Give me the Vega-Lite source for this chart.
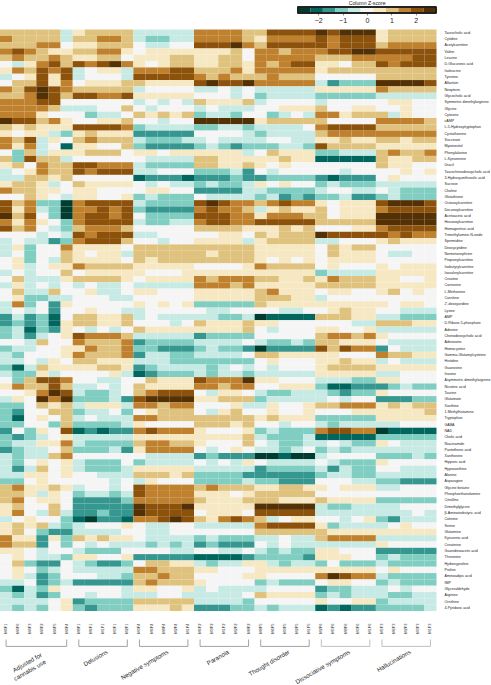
{"$schema":"https://vega.github.io/schema/vega-lite/v6.json","padding":0,"bounds":"flush","spacing":16.5,"background":"white","config":{"view":{"stroke":null},"font":"Liberation Sans"},
"datasets":{"legendBins":[{"bin":-5,"lo":-2.84,"hi":-2.324},{"bin":-4,"lo":-2.324,"hi":-1.808},{"bin":-3,"lo":-1.808,"hi":-1.292},{"bin":-2,"lo":-1.292,"hi":-0.776},{"bin":-1,"lo":-0.776,"hi":-0.26},{"bin":0,"lo":-0.26,"hi":0.256},{"bin":1,"lo":0.256,"hi":0.772},{"bin":2,"lo":0.772,"hi":1.288},{"bin":3,"lo":1.288,"hi":1.804},{"bin":4,"lo":1.804,"hi":2.32},{"bin":5,"lo":2.32,"hi":2.84}],
"groups":[{"group":"Adjusted for\ncannabis use","first":"M4F1","last":"M4F4","mid":"M4F2"},{"group":"Delusions","first":"M8F1","last":"M2F1","mid":"M1F1"},{"group":"Negative symptoms","first":"M3F4","last":"M1F4","mid":"M8F4"},{"group":"Paranoia","first":"M6F2","last":"M8F2","mid":"M1F2"},{"group":"Thought disorder","first":"M8F5","last":"M1F5","mid":"M3F5"},{"group":"Dissociative symptoms","first":"M2F6","last":"M1F6","mid":"M8F6"},{"group":"Hallucinations","first":"M5F3","last":"M1F3","mid":"M2F3"}],
"samples":[{"s":1,"sample":"M4F1"},{"s":2,"sample":"M4F6"},{"s":3,"sample":"M4F3"},{"s":4,"sample":"M4F2"},{"s":5,"sample":"M4F5"},{"s":6,"sample":"M4F4"},{"s":7,"sample":"M8F1"},{"s":8,"sample":"M6F1"},{"s":9,"sample":"M1F1"},{"s":10,"sample":"M3F1"},{"s":11,"sample":"M2F1"},{"s":12,"sample":"M3F4"},{"s":13,"sample":"M6F4"},{"s":14,"sample":"M8F4"},{"s":15,"sample":"M2F4"},{"s":16,"sample":"M1F4"},{"s":17,"sample":"M6F2"},{"s":18,"sample":"M3F2"},{"s":19,"sample":"M1F2"},{"s":20,"sample":"M2F2"},{"s":21,"sample":"M8F2"},{"s":22,"sample":"M8F5"},{"s":23,"sample":"M6F5"},{"s":24,"sample":"M3F5"},{"s":25,"sample":"M2F5"},{"s":26,"sample":"M1F5"},{"s":27,"sample":"M2F6"},{"s":28,"sample":"M5F6"},{"s":29,"sample":"M8F6"},{"s":30,"sample":"M3F6"},{"s":31,"sample":"M1F6"},{"s":32,"sample":"M5F3"},{"s":33,"sample":"M6F3"},{"s":34,"sample":"M2F3"},{"s":35,"sample":"M3F3"},{"s":36,"sample":"M1F3"}],
"metabolites":[{"m":1,"name":"Taurocholic acid"},{"m":2,"name":"Cytidine"},{"m":3,"name":"Acetylcarnitine"},{"m":4,"name":"Valine"},{"m":5,"name":"Leucine"},{"m":6,"name":"D-Glucuronic acid"},{"m":7,"name":"Isoleucine"},{"m":8,"name":"Tyrosine"},{"m":9,"name":"Allantoin"},{"m":10,"name":"Neopterin"},{"m":11,"name":"Glycocholic acid"},{"m":12,"name":"Symmetric dimethylarginine"},{"m":13,"name":"Glycine"},{"m":14,"name":"Cytosine"},{"m":15,"name":"cAMP"},{"m":16,"name":"L-5-Hydroxytryptophan"},{"m":17,"name":"Cystathionine"},{"m":18,"name":"Succinate"},{"m":19,"name":"Myoinositol"},{"m":20,"name":"Phenylalanine"},{"m":21,"name":"L-Kynurenine"},{"m":22,"name":"Uracil"},{"m":23,"name":"Taurochenodeoxycholic acid"},{"m":24,"name":"3-Hydroxyanthranilic acid"},{"m":25,"name":"Sucrose"},{"m":26,"name":"Choline"},{"m":27,"name":"Glutathione"},{"m":28,"name":"Octanoylcarnitine"},{"m":29,"name":"Decanoylcarnitine"},{"m":30,"name":"Acetoacetic acid"},{"m":31,"name":"Hexanoylcarnitine"},{"m":32,"name":"Homogentisic acid"},{"m":33,"name":"Trimethylamine-N-oxide"},{"m":34,"name":"Spermidine"},{"m":35,"name":"Deoxycytidine"},{"m":36,"name":"Normetanephrine"},{"m":37,"name":"Propionylcarnitine"},{"m":38,"name":"Isobutyrylcarnitine"},{"m":39,"name":"Isovalerylcarnitine"},{"m":40,"name":"Creatine"},{"m":41,"name":"Carnosine"},{"m":42,"name":"L-Methionine"},{"m":43,"name":"Carnitine"},{"m":44,"name":"2'-deoxyuridine"},{"m":45,"name":"Lysine"},{"m":46,"name":"AMP"},{"m":47,"name":"D-Ribose-5-phosphate"},{"m":48,"name":"Adenine"},{"m":49,"name":"Chenodeoxycholic acid"},{"m":50,"name":"Adenosine"},{"m":51,"name":"Homocystine"},{"m":52,"name":"Gamma-Glutamylcysteine"},{"m":53,"name":"Histidine"},{"m":54,"name":"Guanosine"},{"m":55,"name":"Inosine"},{"m":56,"name":"Asymmetric dimethylarginine"},{"m":57,"name":"Nicotinic acid"},{"m":58,"name":"Taurine"},{"m":59,"name":"Glutamate"},{"m":60,"name":"Xanthine"},{"m":61,"name":"1-Methylhistamine"},{"m":62,"name":"Tryptophan"},{"m":63,"name":"GABA"},{"m":64,"name":"NAD"},{"m":65,"name":"Cholic acid"},{"m":66,"name":"Niacinamide"},{"m":67,"name":"Pantothenic acid"},{"m":68,"name":"Xanthosine"},{"m":69,"name":"Hippuric acid"},{"m":70,"name":"Hypoxanthine"},{"m":71,"name":"Alanine"},{"m":72,"name":"Asparagine"},{"m":73,"name":"Glycine betaine"},{"m":74,"name":"Phosphoethanolamine"},{"m":75,"name":"Citrulline"},{"m":76,"name":"Dimethylglycine"},{"m":77,"name":"β-Aminoisobutyric acid"},{"m":78,"name":"Cotinine"},{"m":79,"name":"Serine"},{"m":80,"name":"Glutamine"},{"m":81,"name":"Kynurenic acid"},{"m":82,"name":"Creatinine"},{"m":83,"name":"Guanidinoacetic acid"},{"m":84,"name":"Threonine"},{"m":85,"name":"Hydroxyproline"},{"m":86,"name":"Proline"},{"m":87,"name":"Aminoadipic acid"},{"m":88,"name":"IMP"},{"m":89,"name":"Glyceraldehyde"},{"m":90,"name":"Arginine"},{"m":91,"name":"Ornithine"},{"m":92,"name":"4-Pyridoxic acid"}],
"cells":[
{"m":1,"s":1,"bin":2},{"m":1,"s":2,"bin":2},{"m":1,"s":3,"bin":2},{"m":1,"s":4,"bin":2},{"m":1,"s":5,"bin":2},{"m":1,"s":6,"bin":-1},{"m":1,"s":7,"bin":1},{"m":1,"s":8,"bin":2},{"m":1,"s":9,"bin":2},{"m":1,"s":10,"bin":2},{"m":1,"s":11,"bin":2},{"m":1,"s":12,"bin":-1},{"m":1,"s":13,"bin":-1},{"m":1,"s":14,"bin":-1},{"m":1,"s":15,"bin":-1},{"m":1,"s":16,"bin":-1},{"m":1,"s":17,"bin":3},{"m":1,"s":18,"bin":3},{"m":1,"s":19,"bin":3},{"m":1,"s":20,"bin":3},{"m":1,"s":21,"bin":2},{"m":1,"s":22,"bin":2},{"m":1,"s":23,"bin":4},{"m":1,"s":24,"bin":4},{"m":1,"s":25,"bin":4},{"m":1,"s":26,"bin":4},{"m":1,"s":27,"bin":5},{"m":1,"s":28,"bin":4},{"m":1,"s":29,"bin":5},{"m":1,"s":30,"bin":5},{"m":1,"s":31,"bin":5},{"m":1,"s":32,"bin":1},{"m":1,"s":33,"bin":2},{"m":1,"s":34,"bin":2},{"m":1,"s":35,"bin":2},{"m":1,"s":36,"bin":2},
{"m":2,"s":1,"bin":3},{"m":2,"s":2,"bin":2},{"m":2,"s":3,"bin":2},{"m":2,"s":4,"bin":2},{"m":2,"s":5,"bin":2},{"m":2,"s":6,"bin":-1},{"m":2,"s":7,"bin":2},{"m":2,"s":8,"bin":2},{"m":2,"s":9,"bin":3},{"m":2,"s":10,"bin":3},{"m":2,"s":11,"bin":2},{"m":2,"s":12,"bin":-1},{"m":2,"s":13,"bin":-2},{"m":2,"s":14,"bin":-2},{"m":2,"s":15,"bin":-1},{"m":2,"s":16,"bin":-1},{"m":2,"s":17,"bin":3},{"m":2,"s":18,"bin":3},{"m":2,"s":19,"bin":3},{"m":2,"s":20,"bin":3},{"m":2,"s":21,"bin":2},{"m":2,"s":22,"bin":1},{"m":2,"s":23,"bin":3},{"m":2,"s":24,"bin":3},{"m":2,"s":25,"bin":3},{"m":2,"s":26,"bin":3},{"m":2,"s":27,"bin":4},{"m":2,"s":28,"bin":3},{"m":2,"s":29,"bin":4},{"m":2,"s":30,"bin":4},{"m":2,"s":31,"bin":4},{"m":2,"s":32,"bin":1},{"m":2,"s":33,"bin":2},{"m":2,"s":34,"bin":2},{"m":2,"s":35,"bin":2},{"m":2,"s":36,"bin":2},
{"m":3,"s":1,"bin":2},{"m":3,"s":2,"bin":2},{"m":3,"s":3,"bin":2},{"m":3,"s":4,"bin":3},{"m":3,"s":5,"bin":3},{"m":3,"s":6,"bin":0},{"m":3,"s":7,"bin":1},{"m":3,"s":8,"bin":1},{"m":3,"s":9,"bin":2},{"m":3,"s":10,"bin":2},{"m":3,"s":11,"bin":2},{"m":3,"s":12,"bin":0},{"m":3,"s":13,"bin":-1},{"m":3,"s":14,"bin":-1},{"m":3,"s":15,"bin":0},{"m":3,"s":16,"bin":0},{"m":3,"s":17,"bin":4},{"m":3,"s":18,"bin":4},{"m":3,"s":19,"bin":4},{"m":3,"s":20,"bin":5},{"m":3,"s":21,"bin":3},{"m":3,"s":22,"bin":2},{"m":3,"s":23,"bin":4},{"m":3,"s":24,"bin":4},{"m":3,"s":25,"bin":4},{"m":3,"s":26,"bin":4},{"m":3,"s":27,"bin":4},{"m":3,"s":28,"bin":3},{"m":3,"s":29,"bin":4},{"m":3,"s":30,"bin":4},{"m":3,"s":31,"bin":4},{"m":3,"s":32,"bin":2},{"m":3,"s":33,"bin":3},{"m":3,"s":34,"bin":3},{"m":3,"s":35,"bin":3},{"m":3,"s":36,"bin":3},
{"m":4,"s":1,"bin":3},{"m":4,"s":2,"bin":4},{"m":4,"s":3,"bin":3},{"m":4,"s":4,"bin":2},{"m":4,"s":5,"bin":1},{"m":4,"s":6,"bin":1},{"m":4,"s":7,"bin":2},{"m":4,"s":8,"bin":2},{"m":4,"s":9,"bin":3},{"m":4,"s":10,"bin":3},{"m":4,"s":11,"bin":1},{"m":4,"s":12,"bin":0},{"m":4,"s":13,"bin":1},{"m":4,"s":14,"bin":1},{"m":4,"s":15,"bin":1},{"m":4,"s":16,"bin":1},{"m":4,"s":17,"bin":1},{"m":4,"s":18,"bin":1},{"m":4,"s":19,"bin":1},{"m":4,"s":20,"bin":2},{"m":4,"s":21,"bin":0},{"m":4,"s":22,"bin":3},{"m":4,"s":23,"bin":3},{"m":4,"s":24,"bin":2},{"m":4,"s":25,"bin":3},{"m":4,"s":26,"bin":3},{"m":4,"s":27,"bin":3},{"m":4,"s":28,"bin":4},{"m":4,"s":29,"bin":4},{"m":4,"s":30,"bin":5},{"m":4,"s":31,"bin":5},{"m":4,"s":32,"bin":4},{"m":4,"s":33,"bin":4},{"m":4,"s":34,"bin":4},{"m":4,"s":35,"bin":4},{"m":4,"s":36,"bin":4},
{"m":5,"s":1,"bin":2},{"m":5,"s":2,"bin":3},{"m":5,"s":3,"bin":2},{"m":5,"s":4,"bin":2},{"m":5,"s":5,"bin":3},{"m":5,"s":6,"bin":2},{"m":5,"s":7,"bin":1},{"m":5,"s":8,"bin":1},{"m":5,"s":9,"bin":2},{"m":5,"s":10,"bin":2},{"m":5,"s":11,"bin":0},{"m":5,"s":12,"bin":1},{"m":5,"s":13,"bin":1},{"m":5,"s":14,"bin":1},{"m":5,"s":15,"bin":2},{"m":5,"s":16,"bin":2},{"m":5,"s":17,"bin":1},{"m":5,"s":18,"bin":1},{"m":5,"s":19,"bin":2},{"m":5,"s":20,"bin":2},{"m":5,"s":21,"bin":0},{"m":5,"s":22,"bin":3},{"m":5,"s":23,"bin":3},{"m":5,"s":24,"bin":3},{"m":5,"s":25,"bin":3},{"m":5,"s":26,"bin":3},{"m":5,"s":27,"bin":2},{"m":5,"s":28,"bin":2},{"m":5,"s":29,"bin":2},{"m":5,"s":30,"bin":3},{"m":5,"s":31,"bin":3},{"m":5,"s":32,"bin":3},{"m":5,"s":33,"bin":3},{"m":5,"s":34,"bin":3},{"m":5,"s":35,"bin":4},{"m":5,"s":36,"bin":4},
{"m":6,"s":1,"bin":0},{"m":6,"s":2,"bin":-1},{"m":6,"s":3,"bin":1},{"m":6,"s":4,"bin":3},{"m":6,"s":5,"bin":4},{"m":6,"s":6,"bin":2},{"m":6,"s":7,"bin":4},{"m":6,"s":8,"bin":3},{"m":6,"s":9,"bin":4},{"m":6,"s":10,"bin":5},{"m":6,"s":11,"bin":3},{"m":6,"s":12,"bin":1},{"m":6,"s":13,"bin":0},{"m":6,"s":14,"bin":1},{"m":6,"s":15,"bin":2},{"m":6,"s":16,"bin":2},{"m":6,"s":17,"bin":1},{"m":6,"s":18,"bin":1},{"m":6,"s":19,"bin":2},{"m":6,"s":20,"bin":2},{"m":6,"s":21,"bin":1},{"m":6,"s":22,"bin":3},{"m":6,"s":23,"bin":2},{"m":6,"s":24,"bin":3},{"m":6,"s":25,"bin":4},{"m":6,"s":26,"bin":4},{"m":6,"s":27,"bin":1},{"m":6,"s":28,"bin":1},{"m":6,"s":29,"bin":0},{"m":6,"s":30,"bin":2},{"m":6,"s":31,"bin":2},{"m":6,"s":32,"bin":4},{"m":6,"s":33,"bin":3},{"m":6,"s":34,"bin":4},{"m":6,"s":35,"bin":4},{"m":6,"s":36,"bin":4},
{"m":7,"s":1,"bin":1},{"m":7,"s":2,"bin":3},{"m":7,"s":3,"bin":2},{"m":7,"s":4,"bin":4},{"m":7,"s":5,"bin":3},{"m":7,"s":6,"bin":4},{"m":7,"s":7,"bin":-1},{"m":7,"s":8,"bin":0},{"m":7,"s":9,"bin":1},{"m":7,"s":10,"bin":1},{"m":7,"s":11,"bin":-1},{"m":7,"s":12,"bin":3},{"m":7,"s":13,"bin":3},{"m":7,"s":14,"bin":3},{"m":7,"s":15,"bin":4},{"m":7,"s":16,"bin":4},{"m":7,"s":17,"bin":2},{"m":7,"s":18,"bin":2},{"m":7,"s":19,"bin":2},{"m":7,"s":20,"bin":3},{"m":7,"s":21,"bin":1},{"m":7,"s":22,"bin":3},{"m":7,"s":23,"bin":3},{"m":7,"s":24,"bin":3},{"m":7,"s":25,"bin":3},{"m":7,"s":26,"bin":3},{"m":7,"s":27,"bin":1},{"m":7,"s":28,"bin":2},{"m":7,"s":29,"bin":2},{"m":7,"s":30,"bin":2},{"m":7,"s":31,"bin":2},{"m":7,"s":32,"bin":2},{"m":7,"s":33,"bin":2},{"m":7,"s":34,"bin":2},{"m":7,"s":35,"bin":2},{"m":7,"s":36,"bin":2},
{"m":8,"s":1,"bin":-1},{"m":8,"s":2,"bin":0},{"m":8,"s":3,"bin":1},{"m":8,"s":4,"bin":4},{"m":8,"s":5,"bin":1},{"m":8,"s":6,"bin":4},{"m":8,"s":7,"bin":-1},{"m":8,"s":8,"bin":0},{"m":8,"s":9,"bin":0},{"m":8,"s":10,"bin":0},{"m":8,"s":11,"bin":-1},{"m":8,"s":12,"bin":4},{"m":8,"s":13,"bin":4},{"m":8,"s":14,"bin":4},{"m":8,"s":15,"bin":4},{"m":8,"s":16,"bin":4},{"m":8,"s":17,"bin":3},{"m":8,"s":18,"bin":2},{"m":8,"s":19,"bin":3},{"m":8,"s":20,"bin":2},{"m":8,"s":21,"bin":2},{"m":8,"s":22,"bin":2},{"m":8,"s":23,"bin":3},{"m":8,"s":24,"bin":2},{"m":8,"s":25,"bin":2},{"m":8,"s":26,"bin":2},{"m":8,"s":27,"bin":0},{"m":8,"s":28,"bin":0},{"m":8,"s":29,"bin":0},{"m":8,"s":30,"bin":0},{"m":8,"s":31,"bin":0},{"m":8,"s":32,"bin":2},{"m":8,"s":33,"bin":2},{"m":8,"s":34,"bin":2},{"m":8,"s":35,"bin":2},{"m":8,"s":36,"bin":2},
{"m":9,"s":1,"bin":0},{"m":9,"s":2,"bin":2},{"m":9,"s":3,"bin":2},{"m":9,"s":4,"bin":4},{"m":9,"s":5,"bin":1},{"m":9,"s":6,"bin":3},{"m":9,"s":7,"bin":0},{"m":9,"s":8,"bin":1},{"m":9,"s":9,"bin":1},{"m":9,"s":10,"bin":1},{"m":9,"s":11,"bin":2},{"m":9,"s":12,"bin":2},{"m":9,"s":13,"bin":1},{"m":9,"s":14,"bin":1},{"m":9,"s":15,"bin":1},{"m":9,"s":16,"bin":1},{"m":9,"s":17,"bin":4},{"m":9,"s":18,"bin":5},{"m":9,"s":19,"bin":4},{"m":9,"s":20,"bin":4},{"m":9,"s":21,"bin":5},{"m":9,"s":22,"bin":3},{"m":9,"s":23,"bin":3},{"m":9,"s":24,"bin":3},{"m":9,"s":25,"bin":3},{"m":9,"s":26,"bin":3},{"m":9,"s":27,"bin":-1},{"m":9,"s":28,"bin":-3},{"m":9,"s":29,"bin":-2},{"m":9,"s":30,"bin":-2},{"m":9,"s":31,"bin":-2},{"m":9,"s":32,"bin":5},{"m":9,"s":33,"bin":5},{"m":9,"s":34,"bin":5},{"m":9,"s":35,"bin":5},{"m":9,"s":36,"bin":4},
{"m":10,"s":1,"bin":3},{"m":10,"s":2,"bin":2},{"m":10,"s":3,"bin":4},{"m":10,"s":4,"bin":5},{"m":10,"s":5,"bin":4},{"m":10,"s":6,"bin":3},{"m":10,"s":7,"bin":2},{"m":10,"s":8,"bin":2},{"m":10,"s":9,"bin":2},{"m":10,"s":10,"bin":2},{"m":10,"s":11,"bin":2},{"m":10,"s":12,"bin":-1},{"m":10,"s":13,"bin":0},{"m":10,"s":14,"bin":0},{"m":10,"s":15,"bin":0},{"m":10,"s":16,"bin":0},{"m":10,"s":17,"bin":-1},{"m":10,"s":18,"bin":-1},{"m":10,"s":19,"bin":0},{"m":10,"s":20,"bin":-1},{"m":10,"s":21,"bin":0},{"m":10,"s":22,"bin":-1},{"m":10,"s":23,"bin":-1},{"m":10,"s":24,"bin":-1},{"m":10,"s":25,"bin":-1},{"m":10,"s":26,"bin":-1},{"m":10,"s":27,"bin":1},{"m":10,"s":28,"bin":1},{"m":10,"s":29,"bin":1},{"m":10,"s":30,"bin":1},{"m":10,"s":31,"bin":1},{"m":10,"s":32,"bin":3},{"m":10,"s":33,"bin":2},{"m":10,"s":34,"bin":2},{"m":10,"s":35,"bin":2},{"m":10,"s":36,"bin":2},
{"m":11,"s":1,"bin":2},{"m":11,"s":2,"bin":2},{"m":11,"s":3,"bin":3},{"m":11,"s":4,"bin":5},{"m":11,"s":5,"bin":4},{"m":11,"s":6,"bin":2},{"m":11,"s":7,"bin":4},{"m":11,"s":8,"bin":4},{"m":11,"s":9,"bin":3},{"m":11,"s":10,"bin":3},{"m":11,"s":11,"bin":4},{"m":11,"s":12,"bin":1},{"m":11,"s":13,"bin":1},{"m":11,"s":14,"bin":1},{"m":11,"s":15,"bin":1},{"m":11,"s":16,"bin":1},{"m":11,"s":17,"bin":0},{"m":11,"s":18,"bin":0},{"m":11,"s":19,"bin":0},{"m":11,"s":20,"bin":-1},{"m":11,"s":21,"bin":0},{"m":11,"s":22,"bin":-2},{"m":11,"s":23,"bin":-1},{"m":11,"s":24,"bin":-1},{"m":11,"s":25,"bin":-1},{"m":11,"s":26,"bin":-1},{"m":11,"s":27,"bin":-2},{"m":11,"s":28,"bin":-2},{"m":11,"s":29,"bin":-2},{"m":11,"s":30,"bin":-2},{"m":11,"s":31,"bin":-2},{"m":11,"s":32,"bin":-1},{"m":11,"s":33,"bin":-1},{"m":11,"s":34,"bin":-1},{"m":11,"s":35,"bin":-1},{"m":11,"s":36,"bin":-1},
{"m":12,"s":1,"bin":3},{"m":12,"s":2,"bin":3},{"m":12,"s":3,"bin":3},{"m":12,"s":4,"bin":4},{"m":12,"s":5,"bin":4},{"m":12,"s":6,"bin":0},{"m":12,"s":7,"bin":0},{"m":12,"s":8,"bin":0},{"m":12,"s":9,"bin":0},{"m":12,"s":10,"bin":0},{"m":12,"s":11,"bin":0},{"m":12,"s":12,"bin":-1},{"m":12,"s":13,"bin":0},{"m":12,"s":14,"bin":-1},{"m":12,"s":15,"bin":0},{"m":12,"s":16,"bin":-1},{"m":12,"s":17,"bin":2},{"m":12,"s":18,"bin":1},{"m":12,"s":19,"bin":1},{"m":12,"s":20,"bin":1},{"m":12,"s":21,"bin":2},{"m":12,"s":22,"bin":-1},{"m":12,"s":23,"bin":0},{"m":12,"s":24,"bin":0},{"m":12,"s":25,"bin":0},{"m":12,"s":26,"bin":0},{"m":12,"s":27,"bin":-1},{"m":12,"s":28,"bin":0},{"m":12,"s":29,"bin":0},{"m":12,"s":30,"bin":0},{"m":12,"s":31,"bin":0},{"m":12,"s":32,"bin":0},{"m":12,"s":33,"bin":1},{"m":12,"s":34,"bin":1},{"m":12,"s":35,"bin":0},{"m":12,"s":36,"bin":0},
{"m":13,"s":1,"bin":3},{"m":13,"s":2,"bin":3},{"m":13,"s":3,"bin":3},{"m":13,"s":4,"bin":3},{"m":13,"s":5,"bin":2},{"m":13,"s":6,"bin":-1},{"m":13,"s":7,"bin":-1},{"m":13,"s":8,"bin":-1},{"m":13,"s":9,"bin":0},{"m":13,"s":10,"bin":0},{"m":13,"s":11,"bin":2},{"m":13,"s":12,"bin":0},{"m":13,"s":13,"bin":-1},{"m":13,"s":14,"bin":0},{"m":13,"s":15,"bin":0},{"m":13,"s":16,"bin":0},{"m":13,"s":17,"bin":-1},{"m":13,"s":18,"bin":0},{"m":13,"s":19,"bin":-1},{"m":13,"s":20,"bin":-1},{"m":13,"s":21,"bin":-1},{"m":13,"s":22,"bin":0},{"m":13,"s":23,"bin":0},{"m":13,"s":24,"bin":1},{"m":13,"s":25,"bin":1},{"m":13,"s":26,"bin":1},{"m":13,"s":27,"bin":2},{"m":13,"s":28,"bin":0},{"m":13,"s":29,"bin":0},{"m":13,"s":30,"bin":1},{"m":13,"s":31,"bin":1},{"m":13,"s":32,"bin":0},{"m":13,"s":33,"bin":0},{"m":13,"s":34,"bin":1},{"m":13,"s":35,"bin":0},{"m":13,"s":36,"bin":0},
{"m":14,"s":1,"bin":3},{"m":14,"s":2,"bin":3},{"m":14,"s":3,"bin":3},{"m":14,"s":4,"bin":1},{"m":14,"s":5,"bin":0},{"m":14,"s":6,"bin":0},{"m":14,"s":7,"bin":0},{"m":14,"s":8,"bin":-2},{"m":14,"s":9,"bin":-1},{"m":14,"s":10,"bin":-1},{"m":14,"s":11,"bin":0},{"m":14,"s":12,"bin":2},{"m":14,"s":13,"bin":1},{"m":14,"s":14,"bin":2},{"m":14,"s":15,"bin":1},{"m":14,"s":16,"bin":2},{"m":14,"s":17,"bin":-2},{"m":14,"s":18,"bin":-1},{"m":14,"s":19,"bin":-1},{"m":14,"s":20,"bin":-2},{"m":14,"s":21,"bin":0},{"m":14,"s":22,"bin":0},{"m":14,"s":23,"bin":-2},{"m":14,"s":24,"bin":-1},{"m":14,"s":25,"bin":0},{"m":14,"s":26,"bin":-1},{"m":14,"s":27,"bin":3},{"m":14,"s":28,"bin":3},{"m":14,"s":29,"bin":1},{"m":14,"s":30,"bin":2},{"m":14,"s":31,"bin":2},{"m":14,"s":32,"bin":2},{"m":14,"s":33,"bin":-1},{"m":14,"s":34,"bin":1},{"m":14,"s":35,"bin":0},{"m":14,"s":36,"bin":0},
{"m":15,"s":1,"bin":5},{"m":15,"s":2,"bin":4},{"m":15,"s":3,"bin":4},{"m":15,"s":4,"bin":2},{"m":15,"s":5,"bin":3},{"m":15,"s":6,"bin":1},{"m":15,"s":7,"bin":0},{"m":15,"s":8,"bin":0},{"m":15,"s":9,"bin":1},{"m":15,"s":10,"bin":1},{"m":15,"s":11,"bin":2},{"m":15,"s":12,"bin":0},{"m":15,"s":13,"bin":0},{"m":15,"s":14,"bin":-1},{"m":15,"s":15,"bin":0},{"m":15,"s":16,"bin":0},{"m":15,"s":17,"bin":5},{"m":15,"s":18,"bin":5},{"m":15,"s":19,"bin":5},{"m":15,"s":20,"bin":5},{"m":15,"s":21,"bin":5},{"m":15,"s":22,"bin":1},{"m":15,"s":23,"bin":2},{"m":15,"s":24,"bin":2},{"m":15,"s":25,"bin":2},{"m":15,"s":26,"bin":2},{"m":15,"s":27,"bin":2},{"m":15,"s":28,"bin":0},{"m":15,"s":29,"bin":0},{"m":15,"s":30,"bin":0},{"m":15,"s":31,"bin":0},{"m":15,"s":32,"bin":3},{"m":15,"s":33,"bin":3},{"m":15,"s":34,"bin":3},{"m":15,"s":35,"bin":3},{"m":15,"s":36,"bin":2},
{"m":16,"s":1,"bin":2},{"m":16,"s":2,"bin":1},{"m":16,"s":3,"bin":2},{"m":16,"s":4,"bin":1},{"m":16,"s":5,"bin":1},{"m":16,"s":6,"bin":1},{"m":16,"s":7,"bin":4},{"m":16,"s":8,"bin":4},{"m":16,"s":9,"bin":4},{"m":16,"s":10,"bin":4},{"m":16,"s":11,"bin":3},{"m":16,"s":12,"bin":-2},{"m":16,"s":13,"bin":-1},{"m":16,"s":14,"bin":-1},{"m":16,"s":15,"bin":-1},{"m":16,"s":16,"bin":-1},{"m":16,"s":17,"bin":-2},{"m":16,"s":18,"bin":-2},{"m":16,"s":19,"bin":-1},{"m":16,"s":20,"bin":-1},{"m":16,"s":21,"bin":-2},{"m":16,"s":22,"bin":-1},{"m":16,"s":23,"bin":-1},{"m":16,"s":24,"bin":-1},{"m":16,"s":25,"bin":-1},{"m":16,"s":26,"bin":0},{"m":16,"s":27,"bin":3},{"m":16,"s":28,"bin":4},{"m":16,"s":29,"bin":4},{"m":16,"s":30,"bin":4},{"m":16,"s":31,"bin":4},{"m":16,"s":32,"bin":2},{"m":16,"s":33,"bin":2},{"m":16,"s":34,"bin":2},{"m":16,"s":35,"bin":2},{"m":16,"s":36,"bin":2},
{"m":17,"s":1,"bin":1},{"m":17,"s":2,"bin":0},{"m":17,"s":3,"bin":1},{"m":17,"s":4,"bin":1},{"m":17,"s":5,"bin":-1},{"m":17,"s":6,"bin":-2},{"m":17,"s":7,"bin":1},{"m":17,"s":8,"bin":2},{"m":17,"s":9,"bin":1},{"m":17,"s":10,"bin":1},{"m":17,"s":11,"bin":1},{"m":17,"s":12,"bin":-3},{"m":17,"s":13,"bin":-3},{"m":17,"s":14,"bin":-3},{"m":17,"s":15,"bin":-3},{"m":17,"s":16,"bin":-3},{"m":17,"s":17,"bin":0},{"m":17,"s":18,"bin":0},{"m":17,"s":19,"bin":0},{"m":17,"s":20,"bin":0},{"m":17,"s":21,"bin":-1},{"m":17,"s":22,"bin":-2},{"m":17,"s":23,"bin":-1},{"m":17,"s":24,"bin":-1},{"m":17,"s":25,"bin":-1},{"m":17,"s":26,"bin":-1},{"m":17,"s":27,"bin":2},{"m":17,"s":28,"bin":3},{"m":17,"s":29,"bin":3},{"m":17,"s":30,"bin":3},{"m":17,"s":31,"bin":3},{"m":17,"s":32,"bin":3},{"m":17,"s":33,"bin":3},{"m":17,"s":34,"bin":3},{"m":17,"s":35,"bin":3},{"m":17,"s":36,"bin":3},
{"m":18,"s":1,"bin":3},{"m":18,"s":2,"bin":2},{"m":18,"s":3,"bin":4},{"m":18,"s":4,"bin":-1},{"m":18,"s":5,"bin":1},{"m":18,"s":6,"bin":0},{"m":18,"s":7,"bin":2},{"m":18,"s":8,"bin":3},{"m":18,"s":9,"bin":2},{"m":18,"s":10,"bin":2},{"m":18,"s":11,"bin":2},{"m":18,"s":12,"bin":-1},{"m":18,"s":13,"bin":-2},{"m":18,"s":14,"bin":-2},{"m":18,"s":15,"bin":-2},{"m":18,"s":16,"bin":-1},{"m":18,"s":17,"bin":-1},{"m":18,"s":18,"bin":0},{"m":18,"s":19,"bin":-1},{"m":18,"s":20,"bin":-1},{"m":18,"s":21,"bin":-1},{"m":18,"s":22,"bin":-1},{"m":18,"s":23,"bin":0},{"m":18,"s":24,"bin":0},{"m":18,"s":25,"bin":-1},{"m":18,"s":26,"bin":-1},{"m":18,"s":27,"bin":1},{"m":18,"s":28,"bin":1},{"m":18,"s":29,"bin":2},{"m":18,"s":30,"bin":1},{"m":18,"s":31,"bin":1},{"m":18,"s":32,"bin":2},{"m":18,"s":33,"bin":2},{"m":18,"s":34,"bin":1},{"m":18,"s":35,"bin":2},{"m":18,"s":36,"bin":2},
{"m":19,"s":1,"bin":3},{"m":19,"s":2,"bin":1},{"m":19,"s":3,"bin":3},{"m":19,"s":4,"bin":-1},{"m":19,"s":5,"bin":0},{"m":19,"s":6,"bin":-4},{"m":19,"s":7,"bin":1},{"m":19,"s":8,"bin":1},{"m":19,"s":9,"bin":0},{"m":19,"s":10,"bin":0},{"m":19,"s":11,"bin":2},{"m":19,"s":12,"bin":-2},{"m":19,"s":13,"bin":-3},{"m":19,"s":14,"bin":-3},{"m":19,"s":15,"bin":-3},{"m":19,"s":16,"bin":-3},{"m":19,"s":17,"bin":-2},{"m":19,"s":18,"bin":-1},{"m":19,"s":19,"bin":-2},{"m":19,"s":20,"bin":-3},{"m":19,"s":21,"bin":-2},{"m":19,"s":22,"bin":-2},{"m":19,"s":23,"bin":-2},{"m":19,"s":24,"bin":-1},{"m":19,"s":25,"bin":-1},{"m":19,"s":26,"bin":-2},{"m":19,"s":27,"bin":4},{"m":19,"s":28,"bin":2},{"m":19,"s":29,"bin":2},{"m":19,"s":30,"bin":2},{"m":19,"s":31,"bin":2},{"m":19,"s":32,"bin":1},{"m":19,"s":33,"bin":1},{"m":19,"s":34,"bin":1},{"m":19,"s":35,"bin":1},{"m":19,"s":36,"bin":1},
{"m":20,"s":1,"bin":0},{"m":20,"s":2,"bin":-2},{"m":20,"s":3,"bin":2},{"m":20,"s":4,"bin":-1},{"m":20,"s":5,"bin":1},{"m":20,"s":6,"bin":1},{"m":20,"s":7,"bin":1},{"m":20,"s":8,"bin":2},{"m":20,"s":9,"bin":2},{"m":20,"s":10,"bin":2},{"m":20,"s":11,"bin":0},{"m":20,"s":12,"bin":1},{"m":20,"s":13,"bin":1},{"m":20,"s":14,"bin":0},{"m":20,"s":15,"bin":1},{"m":20,"s":16,"bin":1},{"m":20,"s":17,"bin":1},{"m":20,"s":18,"bin":1},{"m":20,"s":19,"bin":1},{"m":20,"s":20,"bin":1},{"m":20,"s":21,"bin":-1},{"m":20,"s":22,"bin":0},{"m":20,"s":23,"bin":2},{"m":20,"s":24,"bin":1},{"m":20,"s":25,"bin":1},{"m":20,"s":26,"bin":1},{"m":20,"s":27,"bin":-2},{"m":20,"s":28,"bin":-2},{"m":20,"s":29,"bin":-1},{"m":20,"s":30,"bin":-1},{"m":20,"s":31,"bin":-1},{"m":20,"s":32,"bin":2},{"m":20,"s":33,"bin":3},{"m":20,"s":34,"bin":2},{"m":20,"s":35,"bin":2},{"m":20,"s":36,"bin":3},
{"m":21,"s":1,"bin":2},{"m":21,"s":2,"bin":-2},{"m":21,"s":3,"bin":4},{"m":21,"s":4,"bin":2},{"m":21,"s":5,"bin":2},{"m":21,"s":6,"bin":-1},{"m":21,"s":7,"bin":0},{"m":21,"s":8,"bin":0},{"m":21,"s":9,"bin":0},{"m":21,"s":10,"bin":0},{"m":21,"s":11,"bin":0},{"m":21,"s":12,"bin":0},{"m":21,"s":13,"bin":-1},{"m":21,"s":14,"bin":-1},{"m":21,"s":15,"bin":-1},{"m":21,"s":16,"bin":-1},{"m":21,"s":17,"bin":2},{"m":21,"s":18,"bin":2},{"m":21,"s":19,"bin":1},{"m":21,"s":20,"bin":1},{"m":21,"s":21,"bin":1},{"m":21,"s":22,"bin":1},{"m":21,"s":23,"bin":1},{"m":21,"s":24,"bin":2},{"m":21,"s":25,"bin":1},{"m":21,"s":26,"bin":1},{"m":21,"s":27,"bin":-4},{"m":21,"s":28,"bin":-4},{"m":21,"s":29,"bin":-4},{"m":21,"s":30,"bin":-4},{"m":21,"s":31,"bin":-4},{"m":21,"s":32,"bin":2},{"m":21,"s":33,"bin":1},{"m":21,"s":34,"bin":1},{"m":21,"s":35,"bin":2},{"m":21,"s":36,"bin":2},
{"m":22,"s":1,"bin":1},{"m":22,"s":2,"bin":2},{"m":22,"s":3,"bin":0},{"m":22,"s":4,"bin":3},{"m":22,"s":5,"bin":2},{"m":22,"s":6,"bin":2},{"m":22,"s":7,"bin":4},{"m":22,"s":8,"bin":4},{"m":22,"s":9,"bin":3},{"m":22,"s":10,"bin":3},{"m":22,"s":11,"bin":3},{"m":22,"s":12,"bin":-1},{"m":22,"s":13,"bin":-2},{"m":22,"s":14,"bin":-2},{"m":22,"s":15,"bin":-2},{"m":22,"s":16,"bin":-2},{"m":22,"s":17,"bin":2},{"m":22,"s":18,"bin":2},{"m":22,"s":19,"bin":1},{"m":22,"s":20,"bin":1},{"m":22,"s":21,"bin":2},{"m":22,"s":22,"bin":1},{"m":22,"s":23,"bin":0},{"m":22,"s":24,"bin":1},{"m":22,"s":25,"bin":0},{"m":22,"s":26,"bin":0},{"m":22,"s":27,"bin":0},{"m":22,"s":28,"bin":0},{"m":22,"s":29,"bin":0},{"m":22,"s":30,"bin":0},{"m":22,"s":31,"bin":0},{"m":22,"s":32,"bin":2},{"m":22,"s":33,"bin":1},{"m":22,"s":34,"bin":1},{"m":22,"s":35,"bin":0},{"m":22,"s":36,"bin":0},
{"m":23,"s":1,"bin":-1},{"m":23,"s":2,"bin":0},{"m":23,"s":3,"bin":1},{"m":23,"s":4,"bin":3},{"m":23,"s":5,"bin":2},{"m":23,"s":6,"bin":2},{"m":23,"s":7,"bin":4},{"m":23,"s":8,"bin":3},{"m":23,"s":9,"bin":4},{"m":23,"s":10,"bin":4},{"m":23,"s":11,"bin":4},{"m":23,"s":12,"bin":-1},{"m":23,"s":13,"bin":-1},{"m":23,"s":14,"bin":0},{"m":23,"s":15,"bin":0},{"m":23,"s":16,"bin":0},{"m":23,"s":17,"bin":-2},{"m":23,"s":18,"bin":-2},{"m":23,"s":19,"bin":-2},{"m":23,"s":20,"bin":-1},{"m":23,"s":21,"bin":-3},{"m":23,"s":22,"bin":0},{"m":23,"s":23,"bin":-1},{"m":23,"s":24,"bin":0},{"m":23,"s":25,"bin":0},{"m":23,"s":26,"bin":0},{"m":23,"s":27,"bin":0},{"m":23,"s":28,"bin":0},{"m":23,"s":29,"bin":-1},{"m":23,"s":30,"bin":0},{"m":23,"s":31,"bin":0},{"m":23,"s":32,"bin":0},{"m":23,"s":33,"bin":0},{"m":23,"s":34,"bin":1},{"m":23,"s":35,"bin":0},{"m":23,"s":36,"bin":1},
{"m":24,"s":1,"bin":-1},{"m":24,"s":2,"bin":-1},{"m":24,"s":3,"bin":2},{"m":24,"s":4,"bin":2},{"m":24,"s":5,"bin":1},{"m":24,"s":6,"bin":2},{"m":24,"s":7,"bin":0},{"m":24,"s":8,"bin":0},{"m":24,"s":9,"bin":0},{"m":24,"s":10,"bin":0},{"m":24,"s":11,"bin":0},{"m":24,"s":12,"bin":-4},{"m":24,"s":13,"bin":-3},{"m":24,"s":14,"bin":-3},{"m":24,"s":15,"bin":-3},{"m":24,"s":16,"bin":-4},{"m":24,"s":17,"bin":-3},{"m":24,"s":18,"bin":-3},{"m":24,"s":19,"bin":-3},{"m":24,"s":20,"bin":-2},{"m":24,"s":21,"bin":-3},{"m":24,"s":22,"bin":-3},{"m":24,"s":23,"bin":-2},{"m":24,"s":24,"bin":-2},{"m":24,"s":25,"bin":-2},{"m":24,"s":26,"bin":-2},{"m":24,"s":27,"bin":-3},{"m":24,"s":28,"bin":-4},{"m":24,"s":29,"bin":-3},{"m":24,"s":30,"bin":-3},{"m":24,"s":31,"bin":-3},{"m":24,"s":32,"bin":0},{"m":24,"s":33,"bin":1},{"m":24,"s":34,"bin":0},{"m":24,"s":35,"bin":0},{"m":24,"s":36,"bin":0},
{"m":25,"s":1,"bin":1},{"m":25,"s":2,"bin":2},{"m":25,"s":3,"bin":2},{"m":25,"s":4,"bin":1},{"m":25,"s":5,"bin":-1},{"m":25,"s":6,"bin":0},{"m":25,"s":7,"bin":2},{"m":25,"s":8,"bin":1},{"m":25,"s":9,"bin":1},{"m":25,"s":10,"bin":1},{"m":25,"s":11,"bin":1},{"m":25,"s":12,"bin":0},{"m":25,"s":13,"bin":-1},{"m":25,"s":14,"bin":0},{"m":25,"s":15,"bin":-1},{"m":25,"s":16,"bin":-1},{"m":25,"s":17,"bin":-2},{"m":25,"s":18,"bin":-1},{"m":25,"s":19,"bin":-2},{"m":25,"s":20,"bin":-2},{"m":25,"s":21,"bin":-1},{"m":25,"s":22,"bin":1},{"m":25,"s":23,"bin":0},{"m":25,"s":24,"bin":1},{"m":25,"s":25,"bin":0},{"m":25,"s":26,"bin":0},{"m":25,"s":27,"bin":-2},{"m":25,"s":28,"bin":-1},{"m":25,"s":29,"bin":-2},{"m":25,"s":30,"bin":-2},{"m":25,"s":31,"bin":-2},{"m":25,"s":32,"bin":-1},{"m":25,"s":33,"bin":-1},{"m":25,"s":34,"bin":-1},{"m":25,"s":35,"bin":-1},{"m":25,"s":36,"bin":-1},
{"m":26,"s":1,"bin":3},{"m":26,"s":2,"bin":2},{"m":26,"s":3,"bin":2},{"m":26,"s":4,"bin":1},{"m":26,"s":5,"bin":1},{"m":26,"s":6,"bin":0},{"m":26,"s":7,"bin":1},{"m":26,"s":8,"bin":1},{"m":26,"s":9,"bin":0},{"m":26,"s":10,"bin":0},{"m":26,"s":11,"bin":0},{"m":26,"s":12,"bin":0},{"m":26,"s":13,"bin":1},{"m":26,"s":14,"bin":1},{"m":26,"s":15,"bin":0},{"m":26,"s":16,"bin":0},{"m":26,"s":17,"bin":-3},{"m":26,"s":18,"bin":-3},{"m":26,"s":19,"bin":-3},{"m":26,"s":20,"bin":-3},{"m":26,"s":21,"bin":-1},{"m":26,"s":22,"bin":-1},{"m":26,"s":23,"bin":-2},{"m":26,"s":24,"bin":-2},{"m":26,"s":25,"bin":-2},{"m":26,"s":26,"bin":-2},{"m":26,"s":27,"bin":-1},{"m":26,"s":28,"bin":0},{"m":26,"s":29,"bin":0},{"m":26,"s":30,"bin":-1},{"m":26,"s":31,"bin":-1},{"m":26,"s":32,"bin":0},{"m":26,"s":33,"bin":-1},{"m":26,"s":34,"bin":-2},{"m":26,"s":35,"bin":-2},{"m":26,"s":36,"bin":-2},
{"m":27,"s":1,"bin":0},{"m":27,"s":2,"bin":0},{"m":27,"s":3,"bin":2},{"m":27,"s":4,"bin":1},{"m":27,"s":5,"bin":0},{"m":27,"s":6,"bin":-1},{"m":27,"s":7,"bin":1},{"m":27,"s":8,"bin":1},{"m":27,"s":9,"bin":0},{"m":27,"s":10,"bin":0},{"m":27,"s":11,"bin":1},{"m":27,"s":12,"bin":-2},{"m":27,"s":13,"bin":-1},{"m":27,"s":14,"bin":-2},{"m":27,"s":15,"bin":-2},{"m":27,"s":16,"bin":-2},{"m":27,"s":17,"bin":0},{"m":27,"s":18,"bin":-1},{"m":27,"s":19,"bin":-1},{"m":27,"s":20,"bin":-1},{"m":27,"s":21,"bin":-1},{"m":27,"s":22,"bin":-2},{"m":27,"s":23,"bin":-1},{"m":27,"s":24,"bin":-3},{"m":27,"s":25,"bin":-2},{"m":27,"s":26,"bin":-3},{"m":27,"s":27,"bin":-2},{"m":27,"s":28,"bin":-2},{"m":27,"s":29,"bin":-1},{"m":27,"s":30,"bin":-3},{"m":27,"s":31,"bin":-3},{"m":27,"s":32,"bin":-2},{"m":27,"s":33,"bin":-1},{"m":27,"s":34,"bin":-2},{"m":27,"s":35,"bin":-2},{"m":27,"s":36,"bin":-2},
{"m":28,"s":1,"bin":4},{"m":28,"s":2,"bin":2},{"m":28,"s":3,"bin":3},{"m":28,"s":4,"bin":-2},{"m":28,"s":5,"bin":-2},{"m":28,"s":6,"bin":-5},{"m":28,"s":7,"bin":3},{"m":28,"s":8,"bin":4},{"m":28,"s":9,"bin":4},{"m":28,"s":10,"bin":4},{"m":28,"s":11,"bin":4},{"m":28,"s":12,"bin":-1},{"m":28,"s":13,"bin":-2},{"m":28,"s":14,"bin":-2},{"m":28,"s":15,"bin":-2},{"m":28,"s":16,"bin":-2},{"m":28,"s":17,"bin":4},{"m":28,"s":18,"bin":5},{"m":28,"s":19,"bin":4},{"m":28,"s":20,"bin":3},{"m":28,"s":21,"bin":3},{"m":28,"s":22,"bin":2},{"m":28,"s":23,"bin":3},{"m":28,"s":24,"bin":4},{"m":28,"s":25,"bin":3},{"m":28,"s":26,"bin":3},{"m":28,"s":27,"bin":1},{"m":28,"s":28,"bin":0},{"m":28,"s":29,"bin":1},{"m":28,"s":30,"bin":1},{"m":28,"s":31,"bin":1},{"m":28,"s":32,"bin":4},{"m":28,"s":33,"bin":5},{"m":28,"s":34,"bin":5},{"m":28,"s":35,"bin":5},{"m":28,"s":36,"bin":4},
{"m":29,"s":1,"bin":4},{"m":29,"s":2,"bin":1},{"m":29,"s":3,"bin":3},{"m":29,"s":4,"bin":-1},{"m":29,"s":5,"bin":-2},{"m":29,"s":6,"bin":-5},{"m":29,"s":7,"bin":3},{"m":29,"s":8,"bin":3},{"m":29,"s":9,"bin":4},{"m":29,"s":10,"bin":3},{"m":29,"s":11,"bin":4},{"m":29,"s":12,"bin":-2},{"m":29,"s":13,"bin":-3},{"m":29,"s":14,"bin":-3},{"m":29,"s":15,"bin":-3},{"m":29,"s":16,"bin":-3},{"m":29,"s":17,"bin":3},{"m":29,"s":18,"bin":4},{"m":29,"s":19,"bin":3},{"m":29,"s":20,"bin":3},{"m":29,"s":21,"bin":2},{"m":29,"s":22,"bin":-1},{"m":29,"s":23,"bin":1},{"m":29,"s":24,"bin":2},{"m":29,"s":25,"bin":1},{"m":29,"s":26,"bin":1},{"m":29,"s":27,"bin":2},{"m":29,"s":28,"bin":0},{"m":29,"s":29,"bin":1},{"m":29,"s":30,"bin":1},{"m":29,"s":31,"bin":1},{"m":29,"s":32,"bin":3},{"m":29,"s":33,"bin":4},{"m":29,"s":34,"bin":4},{"m":29,"s":35,"bin":4},{"m":29,"s":36,"bin":4},
{"m":30,"s":1,"bin":5},{"m":30,"s":2,"bin":2},{"m":30,"s":3,"bin":4},{"m":30,"s":4,"bin":0},{"m":30,"s":5,"bin":-2},{"m":30,"s":6,"bin":-5},{"m":30,"s":7,"bin":3},{"m":30,"s":8,"bin":4},{"m":30,"s":9,"bin":4},{"m":30,"s":10,"bin":3},{"m":30,"s":11,"bin":4},{"m":30,"s":12,"bin":0},{"m":30,"s":13,"bin":-2},{"m":30,"s":14,"bin":-2},{"m":30,"s":15,"bin":-2},{"m":30,"s":16,"bin":-2},{"m":30,"s":17,"bin":4},{"m":30,"s":18,"bin":4},{"m":30,"s":19,"bin":4},{"m":30,"s":20,"bin":3},{"m":30,"s":21,"bin":3},{"m":30,"s":22,"bin":1},{"m":30,"s":23,"bin":3},{"m":30,"s":24,"bin":3},{"m":30,"s":25,"bin":3},{"m":30,"s":26,"bin":2},{"m":30,"s":27,"bin":2},{"m":30,"s":28,"bin":0},{"m":30,"s":29,"bin":1},{"m":30,"s":30,"bin":1},{"m":30,"s":31,"bin":1},{"m":30,"s":32,"bin":5},{"m":30,"s":33,"bin":5},{"m":30,"s":34,"bin":5},{"m":30,"s":35,"bin":5},{"m":30,"s":36,"bin":5},
{"m":31,"s":1,"bin":3},{"m":31,"s":2,"bin":1},{"m":31,"s":3,"bin":3},{"m":31,"s":4,"bin":1},{"m":31,"s":5,"bin":0},{"m":31,"s":6,"bin":-2},{"m":31,"s":7,"bin":3},{"m":31,"s":8,"bin":4},{"m":31,"s":9,"bin":4},{"m":31,"s":10,"bin":4},{"m":31,"s":11,"bin":4},{"m":31,"s":12,"bin":-1},{"m":31,"s":13,"bin":-2},{"m":31,"s":14,"bin":-2},{"m":31,"s":15,"bin":-1},{"m":31,"s":16,"bin":-1},{"m":31,"s":17,"bin":3},{"m":31,"s":18,"bin":4},{"m":31,"s":19,"bin":4},{"m":31,"s":20,"bin":3},{"m":31,"s":21,"bin":3},{"m":31,"s":22,"bin":4},{"m":31,"s":23,"bin":4},{"m":31,"s":24,"bin":4},{"m":31,"s":25,"bin":4},{"m":31,"s":26,"bin":4},{"m":31,"s":27,"bin":2},{"m":31,"s":28,"bin":2},{"m":31,"s":29,"bin":2},{"m":31,"s":30,"bin":2},{"m":31,"s":31,"bin":2},{"m":31,"s":32,"bin":5},{"m":31,"s":33,"bin":5},{"m":31,"s":34,"bin":5},{"m":31,"s":35,"bin":5},{"m":31,"s":36,"bin":5},
{"m":32,"s":1,"bin":4},{"m":32,"s":2,"bin":2},{"m":32,"s":3,"bin":3},{"m":32,"s":4,"bin":0},{"m":32,"s":5,"bin":-1},{"m":32,"s":6,"bin":-2},{"m":32,"s":7,"bin":2},{"m":32,"s":8,"bin":3},{"m":32,"s":9,"bin":3},{"m":32,"s":10,"bin":3},{"m":32,"s":11,"bin":2},{"m":32,"s":12,"bin":0},{"m":32,"s":13,"bin":0},{"m":32,"s":14,"bin":0},{"m":32,"s":15,"bin":0},{"m":32,"s":16,"bin":0},{"m":32,"s":17,"bin":2},{"m":32,"s":18,"bin":2},{"m":32,"s":19,"bin":2},{"m":32,"s":20,"bin":2},{"m":32,"s":21,"bin":1},{"m":32,"s":22,"bin":1},{"m":32,"s":23,"bin":1},{"m":32,"s":24,"bin":2},{"m":32,"s":25,"bin":1},{"m":32,"s":26,"bin":2},{"m":32,"s":27,"bin":0},{"m":32,"s":28,"bin":0},{"m":32,"s":29,"bin":0},{"m":32,"s":30,"bin":1},{"m":32,"s":31,"bin":1},{"m":32,"s":32,"bin":3},{"m":32,"s":33,"bin":4},{"m":32,"s":34,"bin":4},{"m":32,"s":35,"bin":4},{"m":32,"s":36,"bin":4},
{"m":33,"s":1,"bin":0},{"m":33,"s":2,"bin":0},{"m":33,"s":3,"bin":0},{"m":33,"s":4,"bin":-1},{"m":33,"s":5,"bin":0},{"m":33,"s":6,"bin":-1},{"m":33,"s":7,"bin":4},{"m":33,"s":8,"bin":3},{"m":33,"s":9,"bin":4},{"m":33,"s":10,"bin":4},{"m":33,"s":11,"bin":4},{"m":33,"s":12,"bin":-1},{"m":33,"s":13,"bin":-1},{"m":33,"s":14,"bin":0},{"m":33,"s":15,"bin":0},{"m":33,"s":16,"bin":0},{"m":33,"s":17,"bin":0},{"m":33,"s":18,"bin":0},{"m":33,"s":19,"bin":1},{"m":33,"s":20,"bin":1},{"m":33,"s":21,"bin":0},{"m":33,"s":22,"bin":2},{"m":33,"s":23,"bin":1},{"m":33,"s":24,"bin":2},{"m":33,"s":25,"bin":2},{"m":33,"s":26,"bin":2},{"m":33,"s":27,"bin":5},{"m":33,"s":28,"bin":4},{"m":33,"s":29,"bin":4},{"m":33,"s":30,"bin":4},{"m":33,"s":31,"bin":4},{"m":33,"s":32,"bin":4},{"m":33,"s":33,"bin":3},{"m":33,"s":34,"bin":4},{"m":33,"s":35,"bin":3},{"m":33,"s":36,"bin":3},
{"m":34,"s":1,"bin":-1},{"m":34,"s":2,"bin":0},{"m":34,"s":3,"bin":-1},{"m":34,"s":4,"bin":-1},{"m":34,"s":5,"bin":-3},{"m":34,"s":6,"bin":-2},{"m":34,"s":7,"bin":3},{"m":34,"s":8,"bin":4},{"m":34,"s":9,"bin":4},{"m":34,"s":10,"bin":4},{"m":34,"s":11,"bin":2},{"m":34,"s":12,"bin":0},{"m":34,"s":13,"bin":0},{"m":34,"s":14,"bin":-1},{"m":34,"s":15,"bin":0},{"m":34,"s":16,"bin":0},{"m":34,"s":17,"bin":1},{"m":34,"s":18,"bin":1},{"m":34,"s":19,"bin":1},{"m":34,"s":20,"bin":1},{"m":34,"s":21,"bin":-1},{"m":34,"s":22,"bin":1},{"m":34,"s":23,"bin":2},{"m":34,"s":24,"bin":2},{"m":34,"s":25,"bin":2},{"m":34,"s":26,"bin":2},{"m":34,"s":27,"bin":-1},{"m":34,"s":28,"bin":-1},{"m":34,"s":29,"bin":0},{"m":34,"s":30,"bin":0},{"m":34,"s":31,"bin":0},{"m":34,"s":32,"bin":1},{"m":34,"s":33,"bin":2},{"m":34,"s":34,"bin":1},{"m":34,"s":35,"bin":1},{"m":34,"s":36,"bin":1},
{"m":35,"s":1,"bin":-1},{"m":35,"s":2,"bin":1},{"m":35,"s":3,"bin":-2},{"m":35,"s":4,"bin":0},{"m":35,"s":5,"bin":0},{"m":35,"s":6,"bin":3},{"m":35,"s":7,"bin":1},{"m":35,"s":8,"bin":1},{"m":35,"s":9,"bin":1},{"m":35,"s":10,"bin":1},{"m":35,"s":11,"bin":0},{"m":35,"s":12,"bin":2},{"m":35,"s":13,"bin":2},{"m":35,"s":14,"bin":2},{"m":35,"s":15,"bin":2},{"m":35,"s":16,"bin":2},{"m":35,"s":17,"bin":2},{"m":35,"s":18,"bin":2},{"m":35,"s":19,"bin":2},{"m":35,"s":20,"bin":2},{"m":35,"s":21,"bin":2},{"m":35,"s":22,"bin":1},{"m":35,"s":23,"bin":1},{"m":35,"s":24,"bin":1},{"m":35,"s":25,"bin":1},{"m":35,"s":26,"bin":1},{"m":35,"s":27,"bin":0},{"m":35,"s":28,"bin":2},{"m":35,"s":29,"bin":1},{"m":35,"s":30,"bin":2},{"m":35,"s":31,"bin":2},{"m":35,"s":32,"bin":0},{"m":35,"s":33,"bin":0},{"m":35,"s":34,"bin":0},{"m":35,"s":35,"bin":0},{"m":35,"s":36,"bin":0},
{"m":36,"s":1,"bin":-1},{"m":36,"s":2,"bin":0},{"m":36,"s":3,"bin":-2},{"m":36,"s":4,"bin":0},{"m":36,"s":5,"bin":0},{"m":36,"s":6,"bin":2},{"m":36,"s":7,"bin":1},{"m":36,"s":8,"bin":0},{"m":36,"s":9,"bin":1},{"m":36,"s":10,"bin":1},{"m":36,"s":11,"bin":-1},{"m":36,"s":12,"bin":2},{"m":36,"s":13,"bin":2},{"m":36,"s":14,"bin":2},{"m":36,"s":15,"bin":2},{"m":36,"s":16,"bin":2},{"m":36,"s":17,"bin":2},{"m":36,"s":18,"bin":1},{"m":36,"s":19,"bin":2},{"m":36,"s":20,"bin":2},{"m":36,"s":21,"bin":2},{"m":36,"s":22,"bin":1},{"m":36,"s":23,"bin":1},{"m":36,"s":24,"bin":1},{"m":36,"s":25,"bin":1},{"m":36,"s":26,"bin":1},{"m":36,"s":27,"bin":0},{"m":36,"s":28,"bin":2},{"m":36,"s":29,"bin":1},{"m":36,"s":30,"bin":1},{"m":36,"s":31,"bin":1},{"m":36,"s":32,"bin":0},{"m":36,"s":33,"bin":-1},{"m":36,"s":34,"bin":-1},{"m":36,"s":35,"bin":0},{"m":36,"s":36,"bin":0},
{"m":37,"s":1,"bin":0},{"m":37,"s":2,"bin":1},{"m":37,"s":3,"bin":-2},{"m":37,"s":4,"bin":0},{"m":37,"s":5,"bin":-1},{"m":37,"s":6,"bin":2},{"m":37,"s":7,"bin":1},{"m":37,"s":8,"bin":1},{"m":37,"s":9,"bin":1},{"m":37,"s":10,"bin":1},{"m":37,"s":11,"bin":0},{"m":37,"s":12,"bin":2},{"m":37,"s":13,"bin":1},{"m":37,"s":14,"bin":2},{"m":37,"s":15,"bin":2},{"m":37,"s":16,"bin":2},{"m":37,"s":17,"bin":2},{"m":37,"s":18,"bin":2},{"m":37,"s":19,"bin":2},{"m":37,"s":20,"bin":2},{"m":37,"s":21,"bin":2},{"m":37,"s":22,"bin":1},{"m":37,"s":23,"bin":0},{"m":37,"s":24,"bin":1},{"m":37,"s":25,"bin":0},{"m":37,"s":26,"bin":1},{"m":37,"s":27,"bin":0},{"m":37,"s":28,"bin":1},{"m":37,"s":29,"bin":1},{"m":37,"s":30,"bin":1},{"m":37,"s":31,"bin":1},{"m":37,"s":32,"bin":0},{"m":37,"s":33,"bin":0},{"m":37,"s":34,"bin":0},{"m":37,"s":35,"bin":0},{"m":37,"s":36,"bin":0},
{"m":38,"s":1,"bin":0},{"m":38,"s":2,"bin":1},{"m":38,"s":3,"bin":-1},{"m":38,"s":4,"bin":0},{"m":38,"s":5,"bin":1},{"m":38,"s":6,"bin":1},{"m":38,"s":7,"bin":3},{"m":38,"s":8,"bin":2},{"m":38,"s":9,"bin":2},{"m":38,"s":10,"bin":2},{"m":38,"s":11,"bin":2},{"m":38,"s":12,"bin":1},{"m":38,"s":13,"bin":1},{"m":38,"s":14,"bin":1},{"m":38,"s":15,"bin":1},{"m":38,"s":16,"bin":1},{"m":38,"s":17,"bin":0},{"m":38,"s":18,"bin":0},{"m":38,"s":19,"bin":0},{"m":38,"s":20,"bin":0},{"m":38,"s":21,"bin":1},{"m":38,"s":22,"bin":3},{"m":38,"s":23,"bin":2},{"m":38,"s":24,"bin":2},{"m":38,"s":25,"bin":2},{"m":38,"s":26,"bin":2},{"m":38,"s":27,"bin":0},{"m":38,"s":28,"bin":1},{"m":38,"s":29,"bin":0},{"m":38,"s":30,"bin":0},{"m":38,"s":31,"bin":0},{"m":38,"s":32,"bin":1},{"m":38,"s":33,"bin":0},{"m":38,"s":34,"bin":1},{"m":38,"s":35,"bin":1},{"m":38,"s":36,"bin":1},
{"m":39,"s":1,"bin":-1},{"m":39,"s":2,"bin":0},{"m":39,"s":3,"bin":-1},{"m":39,"s":4,"bin":0},{"m":39,"s":5,"bin":0},{"m":39,"s":6,"bin":2},{"m":39,"s":7,"bin":0},{"m":39,"s":8,"bin":1},{"m":39,"s":9,"bin":1},{"m":39,"s":10,"bin":1},{"m":39,"s":11,"bin":1},{"m":39,"s":12,"bin":1},{"m":39,"s":13,"bin":0},{"m":39,"s":14,"bin":0},{"m":39,"s":15,"bin":0},{"m":39,"s":16,"bin":1},{"m":39,"s":17,"bin":1},{"m":39,"s":18,"bin":1},{"m":39,"s":19,"bin":1},{"m":39,"s":20,"bin":1},{"m":39,"s":21,"bin":1},{"m":39,"s":22,"bin":1},{"m":39,"s":23,"bin":1},{"m":39,"s":24,"bin":1},{"m":39,"s":25,"bin":1},{"m":39,"s":26,"bin":1},{"m":39,"s":27,"bin":-2},{"m":39,"s":28,"bin":-1},{"m":39,"s":29,"bin":-1},{"m":39,"s":30,"bin":-1},{"m":39,"s":31,"bin":-1},{"m":39,"s":32,"bin":1},{"m":39,"s":33,"bin":1},{"m":39,"s":34,"bin":1},{"m":39,"s":35,"bin":1},{"m":39,"s":36,"bin":1},
{"m":40,"s":1,"bin":0},{"m":40,"s":2,"bin":2},{"m":40,"s":3,"bin":-1},{"m":40,"s":4,"bin":-1},{"m":40,"s":5,"bin":-1},{"m":40,"s":6,"bin":1},{"m":40,"s":7,"bin":2},{"m":40,"s":8,"bin":2},{"m":40,"s":9,"bin":2},{"m":40,"s":10,"bin":2},{"m":40,"s":11,"bin":1},{"m":40,"s":12,"bin":0},{"m":40,"s":13,"bin":1},{"m":40,"s":14,"bin":1},{"m":40,"s":15,"bin":1},{"m":40,"s":16,"bin":1},{"m":40,"s":17,"bin":3},{"m":40,"s":18,"bin":2},{"m":40,"s":19,"bin":3},{"m":40,"s":20,"bin":3},{"m":40,"s":21,"bin":3},{"m":40,"s":22,"bin":2},{"m":40,"s":23,"bin":2},{"m":40,"s":24,"bin":1},{"m":40,"s":25,"bin":1},{"m":40,"s":26,"bin":2},{"m":40,"s":27,"bin":1},{"m":40,"s":28,"bin":3},{"m":40,"s":29,"bin":2},{"m":40,"s":30,"bin":2},{"m":40,"s":31,"bin":2},{"m":40,"s":32,"bin":1},{"m":40,"s":33,"bin":1},{"m":40,"s":34,"bin":0},{"m":40,"s":35,"bin":0},{"m":40,"s":36,"bin":1},
{"m":41,"s":1,"bin":-1},{"m":41,"s":2,"bin":1},{"m":41,"s":3,"bin":-1},{"m":41,"s":4,"bin":0},{"m":41,"s":5,"bin":-1},{"m":41,"s":6,"bin":0},{"m":41,"s":7,"bin":-1},{"m":41,"s":8,"bin":0},{"m":41,"s":9,"bin":-1},{"m":41,"s":10,"bin":-1},{"m":41,"s":11,"bin":0},{"m":41,"s":12,"bin":-1},{"m":41,"s":13,"bin":-1},{"m":41,"s":14,"bin":-1},{"m":41,"s":15,"bin":-1},{"m":41,"s":16,"bin":-1},{"m":41,"s":17,"bin":3},{"m":41,"s":18,"bin":3},{"m":41,"s":19,"bin":3},{"m":41,"s":20,"bin":2},{"m":41,"s":21,"bin":3},{"m":41,"s":22,"bin":1},{"m":41,"s":23,"bin":1},{"m":41,"s":24,"bin":1},{"m":41,"s":25,"bin":1},{"m":41,"s":26,"bin":1},{"m":41,"s":27,"bin":2},{"m":41,"s":28,"bin":2},{"m":41,"s":29,"bin":2},{"m":41,"s":30,"bin":2},{"m":41,"s":31,"bin":2},{"m":41,"s":32,"bin":1},{"m":41,"s":33,"bin":1},{"m":41,"s":34,"bin":1},{"m":41,"s":35,"bin":1},{"m":41,"s":36,"bin":1},
{"m":42,"s":1,"bin":0},{"m":42,"s":2,"bin":2},{"m":42,"s":3,"bin":-1},{"m":42,"s":4,"bin":-1},{"m":42,"s":5,"bin":2},{"m":42,"s":6,"bin":0},{"m":42,"s":7,"bin":0},{"m":42,"s":8,"bin":1},{"m":42,"s":9,"bin":-1},{"m":42,"s":10,"bin":-1},{"m":42,"s":11,"bin":0},{"m":42,"s":12,"bin":1},{"m":42,"s":13,"bin":1},{"m":42,"s":14,"bin":0},{"m":42,"s":15,"bin":0},{"m":42,"s":16,"bin":0},{"m":42,"s":17,"bin":1},{"m":42,"s":18,"bin":1},{"m":42,"s":19,"bin":1},{"m":42,"s":20,"bin":1},{"m":42,"s":21,"bin":1},{"m":42,"s":22,"bin":2},{"m":42,"s":23,"bin":3},{"m":42,"s":24,"bin":1},{"m":42,"s":25,"bin":1},{"m":42,"s":26,"bin":1},{"m":42,"s":27,"bin":0},{"m":42,"s":28,"bin":1},{"m":42,"s":29,"bin":1},{"m":42,"s":30,"bin":0},{"m":42,"s":31,"bin":0},{"m":42,"s":32,"bin":1},{"m":42,"s":33,"bin":2},{"m":42,"s":34,"bin":0},{"m":42,"s":35,"bin":1},{"m":42,"s":36,"bin":0},
{"m":43,"s":1,"bin":0},{"m":43,"s":2,"bin":1},{"m":43,"s":3,"bin":-2},{"m":43,"s":4,"bin":-2},{"m":43,"s":5,"bin":-1},{"m":43,"s":6,"bin":-1},{"m":43,"s":7,"bin":0},{"m":43,"s":8,"bin":0},{"m":43,"s":9,"bin":0},{"m":43,"s":10,"bin":-1},{"m":43,"s":11,"bin":-1},{"m":43,"s":12,"bin":0},{"m":43,"s":13,"bin":0},{"m":43,"s":14,"bin":0},{"m":43,"s":15,"bin":0},{"m":43,"s":16,"bin":0},{"m":43,"s":17,"bin":1},{"m":43,"s":18,"bin":1},{"m":43,"s":19,"bin":1},{"m":43,"s":20,"bin":1},{"m":43,"s":21,"bin":1},{"m":43,"s":22,"bin":2},{"m":43,"s":23,"bin":2},{"m":43,"s":24,"bin":2},{"m":43,"s":25,"bin":1},{"m":43,"s":26,"bin":1},{"m":43,"s":27,"bin":-1},{"m":43,"s":28,"bin":0},{"m":43,"s":29,"bin":0},{"m":43,"s":30,"bin":0},{"m":43,"s":31,"bin":0},{"m":43,"s":32,"bin":0},{"m":43,"s":33,"bin":0},{"m":43,"s":34,"bin":0},{"m":43,"s":35,"bin":0},{"m":43,"s":36,"bin":0},
{"m":44,"s":1,"bin":-1},{"m":44,"s":2,"bin":3},{"m":44,"s":3,"bin":-2},{"m":44,"s":4,"bin":0},{"m":44,"s":5,"bin":-3},{"m":44,"s":6,"bin":1},{"m":44,"s":7,"bin":0},{"m":44,"s":8,"bin":0},{"m":44,"s":9,"bin":0},{"m":44,"s":10,"bin":0},{"m":44,"s":11,"bin":0},{"m":44,"s":12,"bin":1},{"m":44,"s":13,"bin":0},{"m":44,"s":14,"bin":1},{"m":44,"s":15,"bin":0},{"m":44,"s":16,"bin":1},{"m":44,"s":17,"bin":-2},{"m":44,"s":18,"bin":-2},{"m":44,"s":19,"bin":-2},{"m":44,"s":20,"bin":-2},{"m":44,"s":21,"bin":-2},{"m":44,"s":22,"bin":2},{"m":44,"s":23,"bin":1},{"m":44,"s":24,"bin":1},{"m":44,"s":25,"bin":1},{"m":44,"s":26,"bin":1},{"m":44,"s":27,"bin":1},{"m":44,"s":28,"bin":1},{"m":44,"s":29,"bin":1},{"m":44,"s":30,"bin":1},{"m":44,"s":31,"bin":1},{"m":44,"s":32,"bin":1},{"m":44,"s":33,"bin":0},{"m":44,"s":34,"bin":1},{"m":44,"s":35,"bin":1},{"m":44,"s":36,"bin":0},
{"m":45,"s":1,"bin":-1},{"m":45,"s":2,"bin":0},{"m":45,"s":3,"bin":-1},{"m":45,"s":4,"bin":0},{"m":45,"s":5,"bin":-3},{"m":45,"s":6,"bin":0},{"m":45,"s":7,"bin":0},{"m":45,"s":8,"bin":1},{"m":45,"s":9,"bin":0},{"m":45,"s":10,"bin":0},{"m":45,"s":11,"bin":-1},{"m":45,"s":12,"bin":-1},{"m":45,"s":13,"bin":0},{"m":45,"s":14,"bin":0},{"m":45,"s":15,"bin":0},{"m":45,"s":16,"bin":0},{"m":45,"s":17,"bin":0},{"m":45,"s":18,"bin":-1},{"m":45,"s":19,"bin":-1},{"m":45,"s":20,"bin":0},{"m":45,"s":21,"bin":0},{"m":45,"s":22,"bin":0},{"m":45,"s":23,"bin":0},{"m":45,"s":24,"bin":-1},{"m":45,"s":25,"bin":-1},{"m":45,"s":26,"bin":0},{"m":45,"s":27,"bin":0},{"m":45,"s":28,"bin":1},{"m":45,"s":29,"bin":2},{"m":45,"s":30,"bin":1},{"m":45,"s":31,"bin":1},{"m":45,"s":32,"bin":0},{"m":45,"s":33,"bin":0},{"m":45,"s":34,"bin":-1},{"m":45,"s":35,"bin":-1},{"m":45,"s":36,"bin":-1},
{"m":46,"s":1,"bin":-3},{"m":46,"s":2,"bin":-1},{"m":46,"s":3,"bin":-3},{"m":46,"s":4,"bin":-2},{"m":46,"s":5,"bin":-4},{"m":46,"s":6,"bin":0},{"m":46,"s":7,"bin":2},{"m":46,"s":8,"bin":2},{"m":46,"s":9,"bin":1},{"m":46,"s":10,"bin":1},{"m":46,"s":11,"bin":2},{"m":46,"s":12,"bin":-1},{"m":46,"s":13,"bin":0},{"m":46,"s":14,"bin":-1},{"m":46,"s":15,"bin":-1},{"m":46,"s":16,"bin":-1},{"m":46,"s":17,"bin":-1},{"m":46,"s":18,"bin":-1},{"m":46,"s":19,"bin":-2},{"m":46,"s":20,"bin":-2},{"m":46,"s":21,"bin":-1},{"m":46,"s":22,"bin":-5},{"m":46,"s":23,"bin":-4},{"m":46,"s":24,"bin":-4},{"m":46,"s":25,"bin":-4},{"m":46,"s":26,"bin":-4},{"m":46,"s":27,"bin":2},{"m":46,"s":28,"bin":2},{"m":46,"s":29,"bin":2},{"m":46,"s":30,"bin":1},{"m":46,"s":31,"bin":1},{"m":46,"s":32,"bin":-1},{"m":46,"s":33,"bin":-1},{"m":46,"s":34,"bin":-2},{"m":46,"s":35,"bin":-2},{"m":46,"s":36,"bin":-2},
{"m":47,"s":1,"bin":-3},{"m":47,"s":2,"bin":-2},{"m":47,"s":3,"bin":-3},{"m":47,"s":4,"bin":-2},{"m":47,"s":5,"bin":-4},{"m":47,"s":6,"bin":1},{"m":47,"s":7,"bin":2},{"m":47,"s":8,"bin":2},{"m":47,"s":9,"bin":1},{"m":47,"s":10,"bin":1},{"m":47,"s":11,"bin":2},{"m":47,"s":12,"bin":0},{"m":47,"s":13,"bin":0},{"m":47,"s":14,"bin":0},{"m":47,"s":15,"bin":-1},{"m":47,"s":16,"bin":0},{"m":47,"s":17,"bin":2},{"m":47,"s":18,"bin":1},{"m":47,"s":19,"bin":1},{"m":47,"s":20,"bin":1},{"m":47,"s":21,"bin":2},{"m":47,"s":22,"bin":1},{"m":47,"s":23,"bin":1},{"m":47,"s":24,"bin":0},{"m":47,"s":25,"bin":0},{"m":47,"s":26,"bin":0},{"m":47,"s":27,"bin":0},{"m":47,"s":28,"bin":0},{"m":47,"s":29,"bin":0},{"m":47,"s":30,"bin":-1},{"m":47,"s":31,"bin":-1},{"m":47,"s":32,"bin":2},{"m":47,"s":33,"bin":2},{"m":47,"s":34,"bin":2},{"m":47,"s":35,"bin":1},{"m":47,"s":36,"bin":1},
{"m":48,"s":1,"bin":-2},{"m":48,"s":2,"bin":-1},{"m":48,"s":3,"bin":-4},{"m":48,"s":4,"bin":-2},{"m":48,"s":5,"bin":-3},{"m":48,"s":6,"bin":1},{"m":48,"s":7,"bin":0},{"m":48,"s":8,"bin":-1},{"m":48,"s":9,"bin":0},{"m":48,"s":10,"bin":-1},{"m":48,"s":11,"bin":0},{"m":48,"s":12,"bin":2},{"m":48,"s":13,"bin":1},{"m":48,"s":14,"bin":1},{"m":48,"s":15,"bin":1},{"m":48,"s":16,"bin":1},{"m":48,"s":17,"bin":1},{"m":48,"s":18,"bin":1},{"m":48,"s":19,"bin":1},{"m":48,"s":20,"bin":1},{"m":48,"s":21,"bin":2},{"m":48,"s":22,"bin":0},{"m":48,"s":23,"bin":-1},{"m":48,"s":24,"bin":0},{"m":48,"s":25,"bin":0},{"m":48,"s":26,"bin":0},{"m":48,"s":27,"bin":1},{"m":48,"s":28,"bin":1},{"m":48,"s":29,"bin":0},{"m":48,"s":30,"bin":0},{"m":48,"s":31,"bin":1},{"m":48,"s":32,"bin":-1},{"m":48,"s":33,"bin":-1},{"m":48,"s":34,"bin":-1},{"m":48,"s":35,"bin":-1},{"m":48,"s":36,"bin":-1},
{"m":49,"s":1,"bin":-2},{"m":49,"s":2,"bin":-1},{"m":49,"s":3,"bin":-3},{"m":49,"s":4,"bin":-1},{"m":49,"s":5,"bin":0},{"m":49,"s":6,"bin":1},{"m":49,"s":7,"bin":4},{"m":49,"s":8,"bin":3},{"m":49,"s":9,"bin":3},{"m":49,"s":10,"bin":3},{"m":49,"s":11,"bin":2},{"m":49,"s":12,"bin":-1},{"m":49,"s":13,"bin":-1},{"m":49,"s":14,"bin":-1},{"m":49,"s":15,"bin":-1},{"m":49,"s":16,"bin":-1},{"m":49,"s":17,"bin":-3},{"m":49,"s":18,"bin":-2},{"m":49,"s":19,"bin":-2},{"m":49,"s":20,"bin":-2},{"m":49,"s":21,"bin":-2},{"m":49,"s":22,"bin":0},{"m":49,"s":23,"bin":0},{"m":49,"s":24,"bin":0},{"m":49,"s":25,"bin":0},{"m":49,"s":26,"bin":0},{"m":49,"s":27,"bin":2},{"m":49,"s":28,"bin":3},{"m":49,"s":29,"bin":3},{"m":49,"s":30,"bin":2},{"m":49,"s":31,"bin":3},{"m":49,"s":32,"bin":1},{"m":49,"s":33,"bin":0},{"m":49,"s":34,"bin":0},{"m":49,"s":35,"bin":0},{"m":49,"s":36,"bin":0},
{"m":50,"s":1,"bin":0},{"m":50,"s":2,"bin":0},{"m":50,"s":3,"bin":-1},{"m":50,"s":4,"bin":2},{"m":50,"s":5,"bin":0},{"m":50,"s":6,"bin":0},{"m":50,"s":7,"bin":3},{"m":50,"s":8,"bin":2},{"m":50,"s":9,"bin":2},{"m":50,"s":10,"bin":2},{"m":50,"s":11,"bin":3},{"m":50,"s":12,"bin":-3},{"m":50,"s":13,"bin":-2},{"m":50,"s":14,"bin":-2},{"m":50,"s":15,"bin":-2},{"m":50,"s":16,"bin":-2},{"m":50,"s":17,"bin":-1},{"m":50,"s":18,"bin":-1},{"m":50,"s":19,"bin":-1},{"m":50,"s":20,"bin":-1},{"m":50,"s":21,"bin":0},{"m":50,"s":22,"bin":-1},{"m":50,"s":23,"bin":-2},{"m":50,"s":24,"bin":-2},{"m":50,"s":25,"bin":-1},{"m":50,"s":26,"bin":-2},{"m":50,"s":27,"bin":2},{"m":50,"s":28,"bin":2},{"m":50,"s":29,"bin":1},{"m":50,"s":30,"bin":1},{"m":50,"s":31,"bin":1},{"m":50,"s":32,"bin":0},{"m":50,"s":33,"bin":-1},{"m":50,"s":34,"bin":-1},{"m":50,"s":35,"bin":-1},{"m":50,"s":36,"bin":-1},
{"m":51,"s":1,"bin":-2},{"m":51,"s":2,"bin":-1},{"m":51,"s":3,"bin":-1},{"m":51,"s":4,"bin":0},{"m":51,"s":5,"bin":0},{"m":51,"s":6,"bin":1},{"m":51,"s":7,"bin":1},{"m":51,"s":8,"bin":3},{"m":51,"s":9,"bin":2},{"m":51,"s":10,"bin":2},{"m":51,"s":11,"bin":3},{"m":51,"s":12,"bin":-2},{"m":51,"s":13,"bin":-2},{"m":51,"s":14,"bin":-3},{"m":51,"s":15,"bin":-3},{"m":51,"s":16,"bin":-3},{"m":51,"s":17,"bin":-2},{"m":51,"s":18,"bin":-1},{"m":51,"s":19,"bin":-2},{"m":51,"s":20,"bin":-2},{"m":51,"s":21,"bin":-3},{"m":51,"s":22,"bin":-5},{"m":51,"s":23,"bin":-3},{"m":51,"s":24,"bin":-3},{"m":51,"s":25,"bin":-3},{"m":51,"s":26,"bin":-3},{"m":51,"s":27,"bin":4},{"m":51,"s":28,"bin":2},{"m":51,"s":29,"bin":4},{"m":51,"s":30,"bin":3},{"m":51,"s":31,"bin":3},{"m":51,"s":32,"bin":-3},{"m":51,"s":33,"bin":0},{"m":51,"s":34,"bin":-1},{"m":51,"s":35,"bin":-1},{"m":51,"s":36,"bin":-1},
{"m":52,"s":1,"bin":-1},{"m":52,"s":2,"bin":-2},{"m":52,"s":3,"bin":0},{"m":52,"s":4,"bin":0},{"m":52,"s":5,"bin":0},{"m":52,"s":6,"bin":1},{"m":52,"s":7,"bin":3},{"m":52,"s":8,"bin":2},{"m":52,"s":9,"bin":2},{"m":52,"s":10,"bin":2},{"m":52,"s":11,"bin":3},{"m":52,"s":12,"bin":-3},{"m":52,"s":13,"bin":-1},{"m":52,"s":14,"bin":-1},{"m":52,"s":15,"bin":-2},{"m":52,"s":16,"bin":-2},{"m":52,"s":17,"bin":-1},{"m":52,"s":18,"bin":-1},{"m":52,"s":19,"bin":-1},{"m":52,"s":20,"bin":-1},{"m":52,"s":21,"bin":0},{"m":52,"s":22,"bin":2},{"m":52,"s":23,"bin":2},{"m":52,"s":24,"bin":1},{"m":52,"s":25,"bin":1},{"m":52,"s":26,"bin":1},{"m":52,"s":27,"bin":1},{"m":52,"s":28,"bin":1},{"m":52,"s":29,"bin":0},{"m":52,"s":30,"bin":0},{"m":52,"s":31,"bin":0},{"m":52,"s":32,"bin":3},{"m":52,"s":33,"bin":2},{"m":52,"s":34,"bin":2},{"m":52,"s":35,"bin":1},{"m":52,"s":36,"bin":1},
{"m":53,"s":1,"bin":-1},{"m":53,"s":2,"bin":-1},{"m":53,"s":3,"bin":0},{"m":53,"s":4,"bin":-1},{"m":53,"s":5,"bin":1},{"m":53,"s":6,"bin":0},{"m":53,"s":7,"bin":2},{"m":53,"s":8,"bin":2},{"m":53,"s":9,"bin":1},{"m":53,"s":10,"bin":1},{"m":53,"s":11,"bin":1},{"m":53,"s":12,"bin":-1},{"m":53,"s":13,"bin":-1},{"m":53,"s":14,"bin":-1},{"m":53,"s":15,"bin":-2},{"m":53,"s":16,"bin":-2},{"m":53,"s":17,"bin":-2},{"m":53,"s":18,"bin":-2},{"m":53,"s":19,"bin":-2},{"m":53,"s":20,"bin":-2},{"m":53,"s":21,"bin":-2},{"m":53,"s":22,"bin":0},{"m":53,"s":23,"bin":1},{"m":53,"s":24,"bin":0},{"m":53,"s":25,"bin":0},{"m":53,"s":26,"bin":0},{"m":53,"s":27,"bin":1},{"m":53,"s":28,"bin":1},{"m":53,"s":29,"bin":2},{"m":53,"s":30,"bin":1},{"m":53,"s":31,"bin":1},{"m":53,"s":32,"bin":-1},{"m":53,"s":33,"bin":0},{"m":53,"s":34,"bin":-1},{"m":53,"s":35,"bin":-1},{"m":53,"s":36,"bin":-1},
{"m":54,"s":1,"bin":-2},{"m":54,"s":2,"bin":-4},{"m":54,"s":3,"bin":-1},{"m":54,"s":4,"bin":2},{"m":54,"s":5,"bin":1},{"m":54,"s":6,"bin":1},{"m":54,"s":7,"bin":1},{"m":54,"s":8,"bin":1},{"m":54,"s":9,"bin":2},{"m":54,"s":10,"bin":2},{"m":54,"s":11,"bin":1},{"m":54,"s":12,"bin":-3},{"m":54,"s":13,"bin":-2},{"m":54,"s":14,"bin":-1},{"m":54,"s":15,"bin":-1},{"m":54,"s":16,"bin":-1},{"m":54,"s":17,"bin":-1},{"m":54,"s":18,"bin":-2},{"m":54,"s":19,"bin":-1},{"m":54,"s":20,"bin":0},{"m":54,"s":21,"bin":-1},{"m":54,"s":22,"bin":0},{"m":54,"s":23,"bin":-1},{"m":54,"s":24,"bin":0},{"m":54,"s":25,"bin":0},{"m":54,"s":26,"bin":0},{"m":54,"s":27,"bin":1},{"m":54,"s":28,"bin":2},{"m":54,"s":29,"bin":2},{"m":54,"s":30,"bin":2},{"m":54,"s":31,"bin":2},{"m":54,"s":32,"bin":1},{"m":54,"s":33,"bin":1},{"m":54,"s":34,"bin":1},{"m":54,"s":35,"bin":1},{"m":54,"s":36,"bin":1},
{"m":55,"s":1,"bin":-1},{"m":55,"s":2,"bin":-2},{"m":55,"s":3,"bin":-2},{"m":55,"s":4,"bin":1},{"m":55,"s":5,"bin":-1},{"m":55,"s":6,"bin":0},{"m":55,"s":7,"bin":0},{"m":55,"s":8,"bin":0},{"m":55,"s":9,"bin":0},{"m":55,"s":10,"bin":1},{"m":55,"s":11,"bin":-1},{"m":55,"s":12,"bin":-4},{"m":55,"s":13,"bin":-3},{"m":55,"s":14,"bin":-2},{"m":55,"s":15,"bin":-2},{"m":55,"s":16,"bin":-2},{"m":55,"s":17,"bin":-1},{"m":55,"s":18,"bin":-2},{"m":55,"s":19,"bin":-1},{"m":55,"s":20,"bin":-1},{"m":55,"s":21,"bin":-2},{"m":55,"s":22,"bin":-1},{"m":55,"s":23,"bin":-1},{"m":55,"s":24,"bin":-1},{"m":55,"s":25,"bin":-1},{"m":55,"s":26,"bin":-1},{"m":55,"s":27,"bin":1},{"m":55,"s":28,"bin":1},{"m":55,"s":29,"bin":1},{"m":55,"s":30,"bin":1},{"m":55,"s":31,"bin":1},{"m":55,"s":32,"bin":-1},{"m":55,"s":33,"bin":-1},{"m":55,"s":34,"bin":0},{"m":55,"s":35,"bin":0},{"m":55,"s":36,"bin":0},
{"m":56,"s":1,"bin":0},{"m":56,"s":2,"bin":-2},{"m":56,"s":3,"bin":2},{"m":56,"s":4,"bin":4},{"m":56,"s":5,"bin":4},{"m":56,"s":6,"bin":3},{"m":56,"s":7,"bin":0},{"m":56,"s":8,"bin":0},{"m":56,"s":9,"bin":-1},{"m":56,"s":10,"bin":-1},{"m":56,"s":11,"bin":0},{"m":56,"s":12,"bin":0},{"m":56,"s":13,"bin":2},{"m":56,"s":14,"bin":1},{"m":56,"s":15,"bin":1},{"m":56,"s":16,"bin":1},{"m":56,"s":17,"bin":4},{"m":56,"s":18,"bin":3},{"m":56,"s":19,"bin":3},{"m":56,"s":20,"bin":3},{"m":56,"s":21,"bin":5},{"m":56,"s":22,"bin":1},{"m":56,"s":23,"bin":1},{"m":56,"s":24,"bin":0},{"m":56,"s":25,"bin":0},{"m":56,"s":26,"bin":0},{"m":56,"s":27,"bin":-1},{"m":56,"s":28,"bin":-1},{"m":56,"s":29,"bin":-1},{"m":56,"s":30,"bin":-2},{"m":56,"s":31,"bin":-2},{"m":56,"s":32,"bin":1},{"m":56,"s":33,"bin":1},{"m":56,"s":34,"bin":0},{"m":56,"s":35,"bin":0},{"m":56,"s":36,"bin":0},
{"m":57,"s":1,"bin":1},{"m":57,"s":2,"bin":3},{"m":57,"s":3,"bin":2},{"m":57,"s":4,"bin":2},{"m":57,"s":5,"bin":4},{"m":57,"s":6,"bin":2},{"m":57,"s":7,"bin":-1},{"m":57,"s":8,"bin":-1},{"m":57,"s":9,"bin":0},{"m":57,"s":10,"bin":-1},{"m":57,"s":11,"bin":0},{"m":57,"s":12,"bin":2},{"m":57,"s":13,"bin":1},{"m":57,"s":14,"bin":1},{"m":57,"s":15,"bin":1},{"m":57,"s":16,"bin":1},{"m":57,"s":17,"bin":3},{"m":57,"s":18,"bin":3},{"m":57,"s":19,"bin":2},{"m":57,"s":20,"bin":3},{"m":57,"s":21,"bin":3},{"m":57,"s":22,"bin":0},{"m":57,"s":23,"bin":0},{"m":57,"s":24,"bin":1},{"m":57,"s":25,"bin":1},{"m":57,"s":26,"bin":1},{"m":57,"s":27,"bin":-2},{"m":57,"s":28,"bin":-4},{"m":57,"s":29,"bin":-4},{"m":57,"s":30,"bin":-3},{"m":57,"s":31,"bin":-3},{"m":57,"s":32,"bin":-3},{"m":57,"s":33,"bin":-2},{"m":57,"s":34,"bin":-1},{"m":57,"s":35,"bin":-2},{"m":57,"s":36,"bin":-2},
{"m":58,"s":1,"bin":0},{"m":58,"s":2,"bin":0},{"m":58,"s":3,"bin":1},{"m":58,"s":4,"bin":3},{"m":58,"s":5,"bin":5},{"m":58,"s":6,"bin":4},{"m":58,"s":7,"bin":-1},{"m":58,"s":8,"bin":-2},{"m":58,"s":9,"bin":-2},{"m":58,"s":10,"bin":-1},{"m":58,"s":11,"bin":0},{"m":58,"s":12,"bin":2},{"m":58,"s":13,"bin":3},{"m":58,"s":14,"bin":4},{"m":58,"s":15,"bin":4},{"m":58,"s":16,"bin":4},{"m":58,"s":17,"bin":0},{"m":58,"s":18,"bin":-1},{"m":58,"s":19,"bin":1},{"m":58,"s":20,"bin":1},{"m":58,"s":21,"bin":0},{"m":58,"s":22,"bin":-1},{"m":58,"s":23,"bin":-2},{"m":58,"s":24,"bin":-2},{"m":58,"s":25,"bin":-1},{"m":58,"s":26,"bin":-1},{"m":58,"s":27,"bin":-1},{"m":58,"s":28,"bin":-2},{"m":58,"s":29,"bin":-3},{"m":58,"s":30,"bin":-2},{"m":58,"s":31,"bin":-2},{"m":58,"s":32,"bin":1},{"m":58,"s":33,"bin":0},{"m":58,"s":34,"bin":0},{"m":58,"s":35,"bin":0},{"m":58,"s":36,"bin":0},
{"m":59,"s":1,"bin":-1},{"m":59,"s":2,"bin":1},{"m":59,"s":3,"bin":0},{"m":59,"s":4,"bin":5},{"m":59,"s":5,"bin":3},{"m":59,"s":6,"bin":5},{"m":59,"s":7,"bin":-2},{"m":59,"s":8,"bin":-2},{"m":59,"s":9,"bin":-2},{"m":59,"s":10,"bin":-1},{"m":59,"s":11,"bin":-3},{"m":59,"s":12,"bin":4},{"m":59,"s":13,"bin":5},{"m":59,"s":14,"bin":5},{"m":59,"s":15,"bin":5},{"m":59,"s":16,"bin":5},{"m":59,"s":17,"bin":1},{"m":59,"s":18,"bin":1},{"m":59,"s":19,"bin":2},{"m":59,"s":20,"bin":2},{"m":59,"s":21,"bin":2},{"m":59,"s":22,"bin":-2},{"m":59,"s":23,"bin":-1},{"m":59,"s":24,"bin":-1},{"m":59,"s":25,"bin":-1},{"m":59,"s":26,"bin":-1},{"m":59,"s":27,"bin":-1},{"m":59,"s":28,"bin":0},{"m":59,"s":29,"bin":-1},{"m":59,"s":30,"bin":0},{"m":59,"s":31,"bin":0},{"m":59,"s":32,"bin":-3},{"m":59,"s":33,"bin":-3},{"m":59,"s":34,"bin":-3},{"m":59,"s":35,"bin":-2},{"m":59,"s":36,"bin":-2},
{"m":60,"s":1,"bin":-2},{"m":60,"s":2,"bin":-2},{"m":60,"s":3,"bin":0},{"m":60,"s":4,"bin":2},{"m":60,"s":5,"bin":1},{"m":60,"s":6,"bin":2},{"m":60,"s":7,"bin":-1},{"m":60,"s":8,"bin":1},{"m":60,"s":9,"bin":1},{"m":60,"s":10,"bin":1},{"m":60,"s":11,"bin":-1},{"m":60,"s":12,"bin":3},{"m":60,"s":13,"bin":3},{"m":60,"s":14,"bin":2},{"m":60,"s":15,"bin":3},{"m":60,"s":16,"bin":3},{"m":60,"s":17,"bin":0},{"m":60,"s":18,"bin":0},{"m":60,"s":19,"bin":0},{"m":60,"s":20,"bin":1},{"m":60,"s":21,"bin":-1},{"m":60,"s":22,"bin":-1},{"m":60,"s":23,"bin":1},{"m":60,"s":24,"bin":0},{"m":60,"s":25,"bin":0},{"m":60,"s":26,"bin":1},{"m":60,"s":27,"bin":2},{"m":60,"s":28,"bin":2},{"m":60,"s":29,"bin":3},{"m":60,"s":30,"bin":3},{"m":60,"s":31,"bin":3},{"m":60,"s":32,"bin":1},{"m":60,"s":33,"bin":2},{"m":60,"s":34,"bin":1},{"m":60,"s":35,"bin":2},{"m":60,"s":36,"bin":2},
{"m":61,"s":1,"bin":-2},{"m":61,"s":2,"bin":-3},{"m":61,"s":3,"bin":0},{"m":61,"s":4,"bin":0},{"m":61,"s":5,"bin":2},{"m":61,"s":6,"bin":2},{"m":61,"s":7,"bin":-2},{"m":61,"s":8,"bin":-1},{"m":61,"s":9,"bin":-1},{"m":61,"s":10,"bin":0},{"m":61,"s":11,"bin":-2},{"m":61,"s":12,"bin":0},{"m":61,"s":13,"bin":1},{"m":61,"s":14,"bin":2},{"m":61,"s":15,"bin":2},{"m":61,"s":16,"bin":2},{"m":61,"s":17,"bin":0},{"m":61,"s":18,"bin":-1},{"m":61,"s":19,"bin":1},{"m":61,"s":20,"bin":2},{"m":61,"s":21,"bin":0},{"m":61,"s":22,"bin":0},{"m":61,"s":23,"bin":1},{"m":61,"s":24,"bin":0},{"m":61,"s":25,"bin":0},{"m":61,"s":26,"bin":1},{"m":61,"s":27,"bin":0},{"m":61,"s":28,"bin":0},{"m":61,"s":29,"bin":0},{"m":61,"s":30,"bin":1},{"m":61,"s":31,"bin":1},{"m":61,"s":32,"bin":1},{"m":61,"s":33,"bin":1},{"m":61,"s":34,"bin":1},{"m":61,"s":35,"bin":1},{"m":61,"s":36,"bin":2},
{"m":62,"s":1,"bin":-2},{"m":62,"s":2,"bin":-4},{"m":62,"s":3,"bin":0},{"m":62,"s":4,"bin":1},{"m":62,"s":5,"bin":0},{"m":62,"s":6,"bin":2},{"m":62,"s":7,"bin":-1},{"m":62,"s":8,"bin":0},{"m":62,"s":9,"bin":-1},{"m":62,"s":10,"bin":-1},{"m":62,"s":11,"bin":-1},{"m":62,"s":12,"bin":3},{"m":62,"s":13,"bin":3},{"m":62,"s":14,"bin":2},{"m":62,"s":15,"bin":2},{"m":62,"s":16,"bin":2},{"m":62,"s":17,"bin":2},{"m":62,"s":18,"bin":2},{"m":62,"s":19,"bin":2},{"m":62,"s":20,"bin":2},{"m":62,"s":21,"bin":2},{"m":62,"s":22,"bin":1},{"m":62,"s":23,"bin":2},{"m":62,"s":24,"bin":1},{"m":62,"s":25,"bin":1},{"m":62,"s":26,"bin":1},{"m":62,"s":27,"bin":-2},{"m":62,"s":28,"bin":-2},{"m":62,"s":29,"bin":-2},{"m":62,"s":30,"bin":-2},{"m":62,"s":31,"bin":-2},{"m":62,"s":32,"bin":1},{"m":62,"s":33,"bin":1},{"m":62,"s":34,"bin":1},{"m":62,"s":35,"bin":1},{"m":62,"s":36,"bin":1},
{"m":63,"s":1,"bin":-2},{"m":63,"s":2,"bin":-2},{"m":63,"s":3,"bin":0},{"m":63,"s":4,"bin":0},{"m":63,"s":5,"bin":-2},{"m":63,"s":6,"bin":2},{"m":63,"s":7,"bin":-2},{"m":63,"s":8,"bin":-2},{"m":63,"s":9,"bin":-2},{"m":63,"s":10,"bin":-2},{"m":63,"s":11,"bin":-1},{"m":63,"s":12,"bin":1},{"m":63,"s":13,"bin":0},{"m":63,"s":14,"bin":0},{"m":63,"s":15,"bin":0},{"m":63,"s":16,"bin":0},{"m":63,"s":17,"bin":2},{"m":63,"s":18,"bin":2},{"m":63,"s":19,"bin":2},{"m":63,"s":20,"bin":1},{"m":63,"s":21,"bin":2},{"m":63,"s":22,"bin":0},{"m":63,"s":23,"bin":0},{"m":63,"s":24,"bin":-1},{"m":63,"s":25,"bin":0},{"m":63,"s":26,"bin":0},{"m":63,"s":27,"bin":-1},{"m":63,"s":28,"bin":-2},{"m":63,"s":29,"bin":-1},{"m":63,"s":30,"bin":-1},{"m":63,"s":31,"bin":-1},{"m":63,"s":32,"bin":-1},{"m":63,"s":33,"bin":-1},{"m":63,"s":34,"bin":0},{"m":63,"s":35,"bin":0},{"m":63,"s":36,"bin":0},
{"m":64,"s":1,"bin":-3},{"m":64,"s":2,"bin":0},{"m":64,"s":3,"bin":-2},{"m":64,"s":4,"bin":1},{"m":64,"s":5,"bin":0},{"m":64,"s":6,"bin":4},{"m":64,"s":7,"bin":-4},{"m":64,"s":8,"bin":-3},{"m":64,"s":9,"bin":-4},{"m":64,"s":10,"bin":-3},{"m":64,"s":11,"bin":-3},{"m":64,"s":12,"bin":3},{"m":64,"s":13,"bin":4},{"m":64,"s":14,"bin":3},{"m":64,"s":15,"bin":3},{"m":64,"s":16,"bin":3},{"m":64,"s":17,"bin":1},{"m":64,"s":18,"bin":0},{"m":64,"s":19,"bin":0},{"m":64,"s":20,"bin":0},{"m":64,"s":21,"bin":1},{"m":64,"s":22,"bin":-2},{"m":64,"s":23,"bin":-1},{"m":64,"s":24,"bin":-2},{"m":64,"s":25,"bin":-2},{"m":64,"s":26,"bin":-2},{"m":64,"s":27,"bin":3},{"m":64,"s":28,"bin":4},{"m":64,"s":29,"bin":4},{"m":64,"s":30,"bin":3},{"m":64,"s":31,"bin":3},{"m":64,"s":32,"bin":-5},{"m":64,"s":33,"bin":-4},{"m":64,"s":34,"bin":-4},{"m":64,"s":35,"bin":-4},{"m":64,"s":36,"bin":-4},
{"m":65,"s":1,"bin":-2},{"m":65,"s":2,"bin":-3},{"m":65,"s":3,"bin":-2},{"m":65,"s":4,"bin":-1},{"m":65,"s":5,"bin":0},{"m":65,"s":6,"bin":1},{"m":65,"s":7,"bin":-1},{"m":65,"s":8,"bin":-1},{"m":65,"s":9,"bin":-1},{"m":65,"s":10,"bin":-1},{"m":65,"s":11,"bin":-1},{"m":65,"s":12,"bin":1},{"m":65,"s":13,"bin":1},{"m":65,"s":14,"bin":1},{"m":65,"s":15,"bin":1},{"m":65,"s":16,"bin":1},{"m":65,"s":17,"bin":1},{"m":65,"s":18,"bin":1},{"m":65,"s":19,"bin":1},{"m":65,"s":20,"bin":1},{"m":65,"s":21,"bin":2},{"m":65,"s":22,"bin":-1},{"m":65,"s":23,"bin":-2},{"m":65,"s":24,"bin":-2},{"m":65,"s":25,"bin":-2},{"m":65,"s":26,"bin":-1},{"m":65,"s":27,"bin":-4},{"m":65,"s":28,"bin":-4},{"m":65,"s":29,"bin":-4},{"m":65,"s":30,"bin":-4},{"m":65,"s":31,"bin":-4},{"m":65,"s":32,"bin":-2},{"m":65,"s":33,"bin":-2},{"m":65,"s":34,"bin":-2},{"m":65,"s":35,"bin":-2},{"m":65,"s":36,"bin":-2},
{"m":66,"s":1,"bin":-2},{"m":66,"s":2,"bin":-1},{"m":66,"s":3,"bin":-1},{"m":66,"s":4,"bin":1},{"m":66,"s":5,"bin":1},{"m":66,"s":6,"bin":3},{"m":66,"s":7,"bin":-1},{"m":66,"s":8,"bin":-2},{"m":66,"s":9,"bin":-2},{"m":66,"s":10,"bin":-2},{"m":66,"s":11,"bin":-2},{"m":66,"s":12,"bin":2},{"m":66,"s":13,"bin":3},{"m":66,"s":14,"bin":3},{"m":66,"s":15,"bin":2},{"m":66,"s":16,"bin":2},{"m":66,"s":17,"bin":1},{"m":66,"s":18,"bin":0},{"m":66,"s":19,"bin":0},{"m":66,"s":20,"bin":0},{"m":66,"s":21,"bin":2},{"m":66,"s":22,"bin":0},{"m":66,"s":23,"bin":-1},{"m":66,"s":24,"bin":-2},{"m":66,"s":25,"bin":-2},{"m":66,"s":26,"bin":-1},{"m":66,"s":27,"bin":-1},{"m":66,"s":28,"bin":0},{"m":66,"s":29,"bin":-1},{"m":66,"s":30,"bin":-2},{"m":66,"s":31,"bin":-2},{"m":66,"s":32,"bin":1},{"m":66,"s":33,"bin":0},{"m":66,"s":34,"bin":-1},{"m":66,"s":35,"bin":-1},{"m":66,"s":36,"bin":-1},
{"m":67,"s":1,"bin":-3},{"m":67,"s":2,"bin":-2},{"m":67,"s":3,"bin":-1},{"m":67,"s":4,"bin":-1},{"m":67,"s":5,"bin":0},{"m":67,"s":6,"bin":2},{"m":67,"s":7,"bin":-2},{"m":67,"s":8,"bin":-2},{"m":67,"s":9,"bin":-2},{"m":67,"s":10,"bin":-1},{"m":67,"s":11,"bin":-3},{"m":67,"s":12,"bin":1},{"m":67,"s":13,"bin":3},{"m":67,"s":14,"bin":3},{"m":67,"s":15,"bin":3},{"m":67,"s":16,"bin":3},{"m":67,"s":17,"bin":0},{"m":67,"s":18,"bin":-1},{"m":67,"s":19,"bin":0},{"m":67,"s":20,"bin":1},{"m":67,"s":21,"bin":0},{"m":67,"s":22,"bin":-1},{"m":67,"s":23,"bin":-1},{"m":67,"s":24,"bin":-2},{"m":67,"s":25,"bin":-1},{"m":67,"s":26,"bin":0},{"m":67,"s":27,"bin":-2},{"m":67,"s":28,"bin":-1},{"m":67,"s":29,"bin":-2},{"m":67,"s":30,"bin":-1},{"m":67,"s":31,"bin":-1},{"m":67,"s":32,"bin":-1},{"m":67,"s":33,"bin":-1},{"m":67,"s":34,"bin":-1},{"m":67,"s":35,"bin":-1},{"m":67,"s":36,"bin":-1},
{"m":68,"s":1,"bin":-1},{"m":68,"s":2,"bin":-2},{"m":68,"s":3,"bin":-1},{"m":68,"s":4,"bin":-1},{"m":68,"s":5,"bin":2},{"m":68,"s":6,"bin":3},{"m":68,"s":7,"bin":0},{"m":68,"s":8,"bin":0},{"m":68,"s":9,"bin":0},{"m":68,"s":10,"bin":0},{"m":68,"s":11,"bin":0},{"m":68,"s":12,"bin":0},{"m":68,"s":13,"bin":-1},{"m":68,"s":14,"bin":-1},{"m":68,"s":15,"bin":-1},{"m":68,"s":16,"bin":-1},{"m":68,"s":17,"bin":-3},{"m":68,"s":18,"bin":-2},{"m":68,"s":19,"bin":-3},{"m":68,"s":20,"bin":-3},{"m":68,"s":21,"bin":-3},{"m":68,"s":22,"bin":-5},{"m":68,"s":23,"bin":-5},{"m":68,"s":24,"bin":-4},{"m":68,"s":25,"bin":-5},{"m":68,"s":26,"bin":-5},{"m":68,"s":27,"bin":-1},{"m":68,"s":28,"bin":0},{"m":68,"s":29,"bin":0},{"m":68,"s":30,"bin":0},{"m":68,"s":31,"bin":0},{"m":68,"s":32,"bin":-2},{"m":68,"s":33,"bin":-2},{"m":68,"s":34,"bin":-2},{"m":68,"s":35,"bin":-1},{"m":68,"s":36,"bin":-2},
{"m":69,"s":1,"bin":-1},{"m":69,"s":2,"bin":-2},{"m":69,"s":3,"bin":0},{"m":69,"s":4,"bin":1},{"m":69,"s":5,"bin":0},{"m":69,"s":6,"bin":1},{"m":69,"s":7,"bin":-1},{"m":69,"s":8,"bin":-2},{"m":69,"s":9,"bin":-2},{"m":69,"s":10,"bin":-2},{"m":69,"s":11,"bin":0},{"m":69,"s":12,"bin":-2},{"m":69,"s":13,"bin":-1},{"m":69,"s":14,"bin":-1},{"m":69,"s":15,"bin":-1},{"m":69,"s":16,"bin":-1},{"m":69,"s":17,"bin":0},{"m":69,"s":18,"bin":-1},{"m":69,"s":19,"bin":0},{"m":69,"s":20,"bin":-1},{"m":69,"s":21,"bin":1},{"m":69,"s":22,"bin":0},{"m":69,"s":23,"bin":-1},{"m":69,"s":24,"bin":-1},{"m":69,"s":25,"bin":-1},{"m":69,"s":26,"bin":-1},{"m":69,"s":27,"bin":0},{"m":69,"s":28,"bin":-1},{"m":69,"s":29,"bin":-2},{"m":69,"s":30,"bin":-2},{"m":69,"s":31,"bin":-2},{"m":69,"s":32,"bin":1},{"m":69,"s":33,"bin":0},{"m":69,"s":34,"bin":0},{"m":69,"s":35,"bin":0},{"m":69,"s":36,"bin":0},
{"m":70,"s":1,"bin":-1},{"m":70,"s":2,"bin":-3},{"m":70,"s":3,"bin":-1},{"m":70,"s":4,"bin":2},{"m":70,"s":5,"bin":0},{"m":70,"s":6,"bin":1},{"m":70,"s":7,"bin":-1},{"m":70,"s":8,"bin":-2},{"m":70,"s":9,"bin":-2},{"m":70,"s":10,"bin":-2},{"m":70,"s":11,"bin":-1},{"m":70,"s":12,"bin":1},{"m":70,"s":13,"bin":1},{"m":70,"s":14,"bin":1},{"m":70,"s":15,"bin":1},{"m":70,"s":16,"bin":1},{"m":70,"s":17,"bin":-1},{"m":70,"s":18,"bin":-1},{"m":70,"s":19,"bin":-1},{"m":70,"s":20,"bin":-1},{"m":70,"s":21,"bin":-1},{"m":70,"s":22,"bin":-3},{"m":70,"s":23,"bin":-2},{"m":70,"s":24,"bin":-2},{"m":70,"s":25,"bin":-2},{"m":70,"s":26,"bin":-2},{"m":70,"s":27,"bin":-1},{"m":70,"s":28,"bin":-3},{"m":70,"s":29,"bin":-1},{"m":70,"s":30,"bin":-2},{"m":70,"s":31,"bin":-2},{"m":70,"s":32,"bin":0},{"m":70,"s":33,"bin":0},{"m":70,"s":34,"bin":-1},{"m":70,"s":35,"bin":-1},{"m":70,"s":36,"bin":-1},
{"m":71,"s":1,"bin":-1},{"m":71,"s":2,"bin":-1},{"m":71,"s":3,"bin":1},{"m":71,"s":4,"bin":1},{"m":71,"s":5,"bin":0},{"m":71,"s":6,"bin":1},{"m":71,"s":7,"bin":0},{"m":71,"s":8,"bin":0},{"m":71,"s":9,"bin":-1},{"m":71,"s":10,"bin":-1},{"m":71,"s":11,"bin":-1},{"m":71,"s":12,"bin":2},{"m":71,"s":13,"bin":2},{"m":71,"s":14,"bin":2},{"m":71,"s":15,"bin":1},{"m":71,"s":16,"bin":2},{"m":71,"s":17,"bin":-2},{"m":71,"s":18,"bin":-2},{"m":71,"s":19,"bin":-2},{"m":71,"s":20,"bin":-2},{"m":71,"s":21,"bin":-3},{"m":71,"s":22,"bin":-3},{"m":71,"s":23,"bin":-3},{"m":71,"s":24,"bin":-3},{"m":71,"s":25,"bin":-3},{"m":71,"s":26,"bin":-3},{"m":71,"s":27,"bin":-2},{"m":71,"s":28,"bin":-1},{"m":71,"s":29,"bin":-1},{"m":71,"s":30,"bin":-2},{"m":71,"s":31,"bin":-2},{"m":71,"s":32,"bin":-1},{"m":71,"s":33,"bin":-1},{"m":71,"s":34,"bin":-1},{"m":71,"s":35,"bin":-1},{"m":71,"s":36,"bin":-1},
{"m":72,"s":1,"bin":-2},{"m":72,"s":2,"bin":-2},{"m":72,"s":3,"bin":0},{"m":72,"s":4,"bin":1},{"m":72,"s":5,"bin":0},{"m":72,"s":6,"bin":0},{"m":72,"s":7,"bin":0},{"m":72,"s":8,"bin":0},{"m":72,"s":9,"bin":0},{"m":72,"s":10,"bin":-1},{"m":72,"s":11,"bin":0},{"m":72,"s":12,"bin":-1},{"m":72,"s":13,"bin":1},{"m":72,"s":14,"bin":0},{"m":72,"s":15,"bin":0},{"m":72,"s":16,"bin":0},{"m":72,"s":17,"bin":-2},{"m":72,"s":18,"bin":-2},{"m":72,"s":19,"bin":-2},{"m":72,"s":20,"bin":-2},{"m":72,"s":21,"bin":-1},{"m":72,"s":22,"bin":-2},{"m":72,"s":23,"bin":-2},{"m":72,"s":24,"bin":-3},{"m":72,"s":25,"bin":-3},{"m":72,"s":26,"bin":-3},{"m":72,"s":27,"bin":0},{"m":72,"s":28,"bin":0},{"m":72,"s":29,"bin":0},{"m":72,"s":30,"bin":-1},{"m":72,"s":31,"bin":-1},{"m":72,"s":32,"bin":-2},{"m":72,"s":33,"bin":-2},{"m":72,"s":34,"bin":-3},{"m":72,"s":35,"bin":-3},{"m":72,"s":36,"bin":-3},
{"m":73,"s":1,"bin":2},{"m":73,"s":2,"bin":3},{"m":73,"s":3,"bin":1},{"m":73,"s":4,"bin":1},{"m":73,"s":5,"bin":2},{"m":73,"s":6,"bin":1},{"m":73,"s":7,"bin":-1},{"m":73,"s":8,"bin":0},{"m":73,"s":9,"bin":0},{"m":73,"s":10,"bin":-1},{"m":73,"s":11,"bin":0},{"m":73,"s":12,"bin":4},{"m":73,"s":13,"bin":3},{"m":73,"s":14,"bin":3},{"m":73,"s":15,"bin":3},{"m":73,"s":16,"bin":3},{"m":73,"s":17,"bin":2},{"m":73,"s":18,"bin":3},{"m":73,"s":19,"bin":2},{"m":73,"s":20,"bin":2},{"m":73,"s":21,"bin":2},{"m":73,"s":22,"bin":1},{"m":73,"s":23,"bin":1},{"m":73,"s":24,"bin":2},{"m":73,"s":25,"bin":2},{"m":73,"s":26,"bin":1},{"m":73,"s":27,"bin":1},{"m":73,"s":28,"bin":0},{"m":73,"s":29,"bin":1},{"m":73,"s":30,"bin":1},{"m":73,"s":31,"bin":1},{"m":73,"s":32,"bin":-1},{"m":73,"s":33,"bin":-1},{"m":73,"s":34,"bin":0},{"m":73,"s":35,"bin":0},{"m":73,"s":36,"bin":0},
{"m":74,"s":1,"bin":2},{"m":74,"s":2,"bin":2},{"m":74,"s":3,"bin":1},{"m":74,"s":4,"bin":-1},{"m":74,"s":5,"bin":1},{"m":74,"s":6,"bin":0},{"m":74,"s":7,"bin":-2},{"m":74,"s":8,"bin":-1},{"m":74,"s":9,"bin":-1},{"m":74,"s":10,"bin":-2},{"m":74,"s":11,"bin":-1},{"m":74,"s":12,"bin":4},{"m":74,"s":13,"bin":3},{"m":74,"s":14,"bin":3},{"m":74,"s":15,"bin":3},{"m":74,"s":16,"bin":3},{"m":74,"s":17,"bin":1},{"m":74,"s":18,"bin":1},{"m":74,"s":19,"bin":1},{"m":74,"s":20,"bin":0},{"m":74,"s":21,"bin":1},{"m":74,"s":22,"bin":2},{"m":74,"s":23,"bin":2},{"m":74,"s":24,"bin":2},{"m":74,"s":25,"bin":2},{"m":74,"s":26,"bin":2},{"m":74,"s":27,"bin":0},{"m":74,"s":28,"bin":0},{"m":74,"s":29,"bin":0},{"m":74,"s":30,"bin":0},{"m":74,"s":31,"bin":0},{"m":74,"s":32,"bin":0},{"m":74,"s":33,"bin":0},{"m":74,"s":34,"bin":0},{"m":74,"s":35,"bin":0},{"m":74,"s":36,"bin":0},
{"m":75,"s":1,"bin":2},{"m":75,"s":2,"bin":3},{"m":75,"s":3,"bin":0},{"m":75,"s":4,"bin":1},{"m":75,"s":5,"bin":1},{"m":75,"s":6,"bin":0},{"m":75,"s":7,"bin":-3},{"m":75,"s":8,"bin":-3},{"m":75,"s":9,"bin":-3},{"m":75,"s":10,"bin":-3},{"m":75,"s":11,"bin":-2},{"m":75,"s":12,"bin":3},{"m":75,"s":13,"bin":3},{"m":75,"s":14,"bin":3},{"m":75,"s":15,"bin":3},{"m":75,"s":16,"bin":3},{"m":75,"s":17,"bin":2},{"m":75,"s":18,"bin":1},{"m":75,"s":19,"bin":1},{"m":75,"s":20,"bin":1},{"m":75,"s":21,"bin":2},{"m":75,"s":22,"bin":2},{"m":75,"s":23,"bin":2},{"m":75,"s":24,"bin":1},{"m":75,"s":25,"bin":1},{"m":75,"s":26,"bin":1},{"m":75,"s":27,"bin":2},{"m":75,"s":28,"bin":1},{"m":75,"s":29,"bin":1},{"m":75,"s":30,"bin":1},{"m":75,"s":31,"bin":1},{"m":75,"s":32,"bin":-2},{"m":75,"s":33,"bin":-2},{"m":75,"s":34,"bin":-2},{"m":75,"s":35,"bin":-2},{"m":75,"s":36,"bin":-2},
{"m":76,"s":1,"bin":1},{"m":76,"s":2,"bin":2},{"m":76,"s":3,"bin":0},{"m":76,"s":4,"bin":0},{"m":76,"s":5,"bin":2},{"m":76,"s":6,"bin":0},{"m":76,"s":7,"bin":-3},{"m":76,"s":8,"bin":-3},{"m":76,"s":9,"bin":-3},{"m":76,"s":10,"bin":-3},{"m":76,"s":11,"bin":-3},{"m":76,"s":12,"bin":5},{"m":76,"s":13,"bin":4},{"m":76,"s":14,"bin":4},{"m":76,"s":15,"bin":4},{"m":76,"s":16,"bin":5},{"m":76,"s":17,"bin":1},{"m":76,"s":18,"bin":1},{"m":76,"s":19,"bin":1},{"m":76,"s":20,"bin":1},{"m":76,"s":21,"bin":1},{"m":76,"s":22,"bin":5},{"m":76,"s":23,"bin":5},{"m":76,"s":24,"bin":5},{"m":76,"s":25,"bin":5},{"m":76,"s":26,"bin":5},{"m":76,"s":27,"bin":-1},{"m":76,"s":28,"bin":-2},{"m":76,"s":29,"bin":-2},{"m":76,"s":30,"bin":-1},{"m":76,"s":31,"bin":-1},{"m":76,"s":32,"bin":-1},{"m":76,"s":33,"bin":-1},{"m":76,"s":34,"bin":0},{"m":76,"s":35,"bin":0},{"m":76,"s":36,"bin":0},
{"m":77,"s":1,"bin":1},{"m":77,"s":2,"bin":3},{"m":77,"s":3,"bin":0},{"m":77,"s":4,"bin":-1},{"m":77,"s":5,"bin":2},{"m":77,"s":6,"bin":-1},{"m":77,"s":7,"bin":-3},{"m":77,"s":8,"bin":-3},{"m":77,"s":9,"bin":-2},{"m":77,"s":10,"bin":-3},{"m":77,"s":11,"bin":-3},{"m":77,"s":12,"bin":5},{"m":77,"s":13,"bin":4},{"m":77,"s":14,"bin":4},{"m":77,"s":15,"bin":4},{"m":77,"s":16,"bin":4},{"m":77,"s":17,"bin":0},{"m":77,"s":18,"bin":1},{"m":77,"s":19,"bin":1},{"m":77,"s":20,"bin":1},{"m":77,"s":21,"bin":0},{"m":77,"s":22,"bin":4},{"m":77,"s":23,"bin":4},{"m":77,"s":24,"bin":4},{"m":77,"s":25,"bin":4},{"m":77,"s":26,"bin":4},{"m":77,"s":27,"bin":-1},{"m":77,"s":28,"bin":-1},{"m":77,"s":29,"bin":-1},{"m":77,"s":30,"bin":-1},{"m":77,"s":31,"bin":-1},{"m":77,"s":32,"bin":-1},{"m":77,"s":33,"bin":-1},{"m":77,"s":34,"bin":-1},{"m":77,"s":35,"bin":0},{"m":77,"s":36,"bin":-1},
{"m":78,"s":1,"bin":-1},{"m":78,"s":2,"bin":0},{"m":78,"s":3,"bin":1},{"m":78,"s":4,"bin":0},{"m":78,"s":5,"bin":0},{"m":78,"s":6,"bin":-2},{"m":78,"s":7,"bin":-4},{"m":78,"s":8,"bin":-5},{"m":78,"s":9,"bin":-3},{"m":78,"s":10,"bin":-3},{"m":78,"s":11,"bin":-4},{"m":78,"s":12,"bin":3},{"m":78,"s":13,"bin":3},{"m":78,"s":14,"bin":4},{"m":78,"s":15,"bin":5},{"m":78,"s":16,"bin":4},{"m":78,"s":17,"bin":2},{"m":78,"s":18,"bin":1},{"m":78,"s":19,"bin":3},{"m":78,"s":20,"bin":4},{"m":78,"s":21,"bin":3},{"m":78,"s":22,"bin":2},{"m":78,"s":23,"bin":-1},{"m":78,"s":24,"bin":0},{"m":78,"s":25,"bin":1},{"m":78,"s":26,"bin":1},{"m":78,"s":27,"bin":0},{"m":78,"s":28,"bin":0},{"m":78,"s":29,"bin":-1},{"m":78,"s":30,"bin":0},{"m":78,"s":31,"bin":1},{"m":78,"s":32,"bin":-2},{"m":78,"s":33,"bin":-3},{"m":78,"s":34,"bin":-1},{"m":78,"s":35,"bin":-1},{"m":78,"s":36,"bin":-1},
{"m":79,"s":1,"bin":1},{"m":79,"s":2,"bin":2},{"m":79,"s":3,"bin":1},{"m":79,"s":4,"bin":2},{"m":79,"s":5,"bin":-1},{"m":79,"s":6,"bin":-2},{"m":79,"s":7,"bin":-1},{"m":79,"s":8,"bin":0},{"m":79,"s":9,"bin":0},{"m":79,"s":10,"bin":0},{"m":79,"s":11,"bin":1},{"m":79,"s":12,"bin":0},{"m":79,"s":13,"bin":-1},{"m":79,"s":14,"bin":-1},{"m":79,"s":15,"bin":0},{"m":79,"s":16,"bin":0},{"m":79,"s":17,"bin":-1},{"m":79,"s":18,"bin":-1},{"m":79,"s":19,"bin":-1},{"m":79,"s":20,"bin":-1},{"m":79,"s":21,"bin":-1},{"m":79,"s":22,"bin":3},{"m":79,"s":23,"bin":4},{"m":79,"s":24,"bin":4},{"m":79,"s":25,"bin":4},{"m":79,"s":26,"bin":4},{"m":79,"s":27,"bin":1},{"m":79,"s":28,"bin":-2},{"m":79,"s":29,"bin":-1},{"m":79,"s":30,"bin":-1},{"m":79,"s":31,"bin":-1},{"m":79,"s":32,"bin":-1},{"m":79,"s":33,"bin":0},{"m":79,"s":34,"bin":1},{"m":79,"s":35,"bin":0},{"m":79,"s":36,"bin":0},
{"m":80,"s":1,"bin":1},{"m":80,"s":2,"bin":2},{"m":80,"s":3,"bin":0},{"m":80,"s":4,"bin":-2},{"m":80,"s":5,"bin":-3},{"m":80,"s":6,"bin":-3},{"m":80,"s":7,"bin":-1},{"m":80,"s":8,"bin":-1},{"m":80,"s":9,"bin":-1},{"m":80,"s":10,"bin":-1},{"m":80,"s":11,"bin":0},{"m":80,"s":12,"bin":0},{"m":80,"s":13,"bin":-1},{"m":80,"s":14,"bin":-1},{"m":80,"s":15,"bin":0},{"m":80,"s":16,"bin":0},{"m":80,"s":17,"bin":0},{"m":80,"s":18,"bin":0},{"m":80,"s":19,"bin":0},{"m":80,"s":20,"bin":0},{"m":80,"s":21,"bin":0},{"m":80,"s":22,"bin":2},{"m":80,"s":23,"bin":2},{"m":80,"s":24,"bin":2},{"m":80,"s":25,"bin":2},{"m":80,"s":26,"bin":2},{"m":80,"s":27,"bin":2},{"m":80,"s":28,"bin":1},{"m":80,"s":29,"bin":1},{"m":80,"s":30,"bin":1},{"m":80,"s":31,"bin":1},{"m":80,"s":32,"bin":1},{"m":80,"s":33,"bin":1},{"m":80,"s":34,"bin":1},{"m":80,"s":35,"bin":1},{"m":80,"s":36,"bin":1},
{"m":81,"s":1,"bin":3},{"m":81,"s":2,"bin":1},{"m":81,"s":3,"bin":1},{"m":81,"s":4,"bin":-3},{"m":81,"s":5,"bin":1},{"m":81,"s":6,"bin":-2},{"m":81,"s":7,"bin":2},{"m":81,"s":8,"bin":1},{"m":81,"s":9,"bin":2},{"m":81,"s":10,"bin":1},{"m":81,"s":11,"bin":1},{"m":81,"s":12,"bin":0},{"m":81,"s":13,"bin":-1},{"m":81,"s":14,"bin":-1},{"m":81,"s":15,"bin":-1},{"m":81,"s":16,"bin":-1},{"m":81,"s":17,"bin":-2},{"m":81,"s":18,"bin":-1},{"m":81,"s":19,"bin":-2},{"m":81,"s":20,"bin":-2},{"m":81,"s":21,"bin":-2},{"m":81,"s":22,"bin":-1},{"m":81,"s":23,"bin":-1},{"m":81,"s":24,"bin":0},{"m":81,"s":25,"bin":-1},{"m":81,"s":26,"bin":-1},{"m":81,"s":27,"bin":2},{"m":81,"s":28,"bin":3},{"m":81,"s":29,"bin":3},{"m":81,"s":30,"bin":3},{"m":81,"s":31,"bin":3},{"m":81,"s":32,"bin":-1},{"m":81,"s":33,"bin":-1},{"m":81,"s":34,"bin":-1},{"m":81,"s":35,"bin":-1},{"m":81,"s":36,"bin":-1},
{"m":82,"s":1,"bin":3},{"m":82,"s":2,"bin":2},{"m":82,"s":3,"bin":2},{"m":82,"s":4,"bin":-3},{"m":82,"s":5,"bin":0},{"m":82,"s":6,"bin":-2},{"m":82,"s":7,"bin":0},{"m":82,"s":8,"bin":-1},{"m":82,"s":9,"bin":0},{"m":82,"s":10,"bin":-1},{"m":82,"s":11,"bin":-1},{"m":82,"s":12,"bin":-1},{"m":82,"s":13,"bin":-2},{"m":82,"s":14,"bin":-1},{"m":82,"s":15,"bin":-2},{"m":82,"s":16,"bin":-1},{"m":82,"s":17,"bin":-3},{"m":82,"s":18,"bin":-2},{"m":82,"s":19,"bin":-3},{"m":82,"s":20,"bin":-3},{"m":82,"s":21,"bin":-3},{"m":82,"s":22,"bin":0},{"m":82,"s":23,"bin":-1},{"m":82,"s":24,"bin":0},{"m":82,"s":25,"bin":-1},{"m":82,"s":26,"bin":-1},{"m":82,"s":27,"bin":-1},{"m":82,"s":28,"bin":-1},{"m":82,"s":29,"bin":-1},{"m":82,"s":30,"bin":-1},{"m":82,"s":31,"bin":-1},{"m":82,"s":32,"bin":1},{"m":82,"s":33,"bin":0},{"m":82,"s":34,"bin":0},{"m":82,"s":35,"bin":0},{"m":82,"s":36,"bin":0},
{"m":83,"s":1,"bin":1},{"m":83,"s":2,"bin":1},{"m":83,"s":3,"bin":0},{"m":83,"s":4,"bin":-1},{"m":83,"s":5,"bin":0},{"m":83,"s":6,"bin":0},{"m":83,"s":7,"bin":-1},{"m":83,"s":8,"bin":-2},{"m":83,"s":9,"bin":-2},{"m":83,"s":10,"bin":-2},{"m":83,"s":11,"bin":0},{"m":83,"s":12,"bin":0},{"m":83,"s":13,"bin":0},{"m":83,"s":14,"bin":0},{"m":83,"s":15,"bin":-1},{"m":83,"s":16,"bin":-1},{"m":83,"s":17,"bin":0},{"m":83,"s":18,"bin":0},{"m":83,"s":19,"bin":-1},{"m":83,"s":20,"bin":-1},{"m":83,"s":21,"bin":0},{"m":83,"s":22,"bin":-1},{"m":83,"s":23,"bin":-2},{"m":83,"s":24,"bin":-1},{"m":83,"s":25,"bin":-2},{"m":83,"s":26,"bin":-2},{"m":83,"s":27,"bin":1},{"m":83,"s":28,"bin":1},{"m":83,"s":29,"bin":0},{"m":83,"s":30,"bin":0},{"m":83,"s":31,"bin":0},{"m":83,"s":32,"bin":-3},{"m":83,"s":33,"bin":-3},{"m":83,"s":34,"bin":-3},{"m":83,"s":35,"bin":-3},{"m":83,"s":36,"bin":-3},
{"m":84,"s":1,"bin":0},{"m":84,"s":2,"bin":1},{"m":84,"s":3,"bin":0},{"m":84,"s":4,"bin":-1},{"m":84,"s":5,"bin":-1},{"m":84,"s":6,"bin":-2},{"m":84,"s":7,"bin":1},{"m":84,"s":8,"bin":1},{"m":84,"s":9,"bin":0},{"m":84,"s":10,"bin":0},{"m":84,"s":11,"bin":1},{"m":84,"s":12,"bin":-3},{"m":84,"s":13,"bin":-3},{"m":84,"s":14,"bin":-3},{"m":84,"s":15,"bin":-3},{"m":84,"s":16,"bin":-3},{"m":84,"s":17,"bin":-4},{"m":84,"s":18,"bin":-4},{"m":84,"s":19,"bin":-4},{"m":84,"s":20,"bin":-4},{"m":84,"s":21,"bin":-3},{"m":84,"s":22,"bin":-2},{"m":84,"s":23,"bin":-2},{"m":84,"s":24,"bin":-2},{"m":84,"s":25,"bin":-2},{"m":84,"s":26,"bin":-3},{"m":84,"s":27,"bin":1},{"m":84,"s":28,"bin":1},{"m":84,"s":29,"bin":1},{"m":84,"s":30,"bin":0},{"m":84,"s":31,"bin":0},{"m":84,"s":32,"bin":-2},{"m":84,"s":33,"bin":-1},{"m":84,"s":34,"bin":-2},{"m":84,"s":35,"bin":-2},{"m":84,"s":36,"bin":-2},
{"m":85,"s":1,"bin":0},{"m":85,"s":2,"bin":2},{"m":85,"s":3,"bin":-2},{"m":85,"s":4,"bin":-3},{"m":85,"s":5,"bin":-3},{"m":85,"s":6,"bin":0},{"m":85,"s":7,"bin":-1},{"m":85,"s":8,"bin":-2},{"m":85,"s":9,"bin":-3},{"m":85,"s":10,"bin":-3},{"m":85,"s":11,"bin":-2},{"m":85,"s":12,"bin":0},{"m":85,"s":13,"bin":2},{"m":85,"s":14,"bin":2},{"m":85,"s":15,"bin":1},{"m":85,"s":16,"bin":1},{"m":85,"s":17,"bin":-1},{"m":85,"s":18,"bin":-2},{"m":85,"s":19,"bin":-1},{"m":85,"s":20,"bin":-1},{"m":85,"s":21,"bin":1},{"m":85,"s":22,"bin":1},{"m":85,"s":23,"bin":-1},{"m":85,"s":24,"bin":-2},{"m":85,"s":25,"bin":-1},{"m":85,"s":26,"bin":-1},{"m":85,"s":27,"bin":-2},{"m":85,"s":28,"bin":0},{"m":85,"s":29,"bin":-2},{"m":85,"s":30,"bin":-2},{"m":85,"s":31,"bin":-2},{"m":85,"s":32,"bin":-1},{"m":85,"s":33,"bin":-2},{"m":85,"s":34,"bin":-2},{"m":85,"s":35,"bin":-2},{"m":85,"s":36,"bin":-2},
{"m":86,"s":1,"bin":0},{"m":86,"s":2,"bin":1},{"m":86,"s":3,"bin":0},{"m":86,"s":4,"bin":-2},{"m":86,"s":5,"bin":-1},{"m":86,"s":6,"bin":0},{"m":86,"s":7,"bin":-1},{"m":86,"s":8,"bin":-1},{"m":86,"s":9,"bin":-1},{"m":86,"s":10,"bin":-1},{"m":86,"s":11,"bin":-1},{"m":86,"s":12,"bin":3},{"m":86,"s":13,"bin":3},{"m":86,"s":14,"bin":2},{"m":86,"s":15,"bin":2},{"m":86,"s":16,"bin":2},{"m":86,"s":17,"bin":1},{"m":86,"s":18,"bin":1},{"m":86,"s":19,"bin":0},{"m":86,"s":20,"bin":0},{"m":86,"s":21,"bin":0},{"m":86,"s":22,"bin":1},{"m":86,"s":23,"bin":1},{"m":86,"s":24,"bin":1},{"m":86,"s":25,"bin":1},{"m":86,"s":26,"bin":1},{"m":86,"s":27,"bin":1},{"m":86,"s":28,"bin":1},{"m":86,"s":29,"bin":1},{"m":86,"s":30,"bin":1},{"m":86,"s":31,"bin":1},{"m":86,"s":32,"bin":0},{"m":86,"s":33,"bin":1},{"m":86,"s":34,"bin":0},{"m":86,"s":35,"bin":0},{"m":86,"s":36,"bin":0},
{"m":87,"s":1,"bin":0},{"m":87,"s":2,"bin":1},{"m":87,"s":3,"bin":-1},{"m":87,"s":4,"bin":-3},{"m":87,"s":5,"bin":-2},{"m":87,"s":6,"bin":0},{"m":87,"s":7,"bin":0},{"m":87,"s":8,"bin":0},{"m":87,"s":9,"bin":-1},{"m":87,"s":10,"bin":-1},{"m":87,"s":11,"bin":-2},{"m":87,"s":12,"bin":2},{"m":87,"s":13,"bin":2},{"m":87,"s":14,"bin":3},{"m":87,"s":15,"bin":2},{"m":87,"s":16,"bin":2},{"m":87,"s":17,"bin":0},{"m":87,"s":18,"bin":0},{"m":87,"s":19,"bin":0},{"m":87,"s":20,"bin":0},{"m":87,"s":21,"bin":1},{"m":87,"s":22,"bin":1},{"m":87,"s":23,"bin":0},{"m":87,"s":24,"bin":0},{"m":87,"s":25,"bin":0},{"m":87,"s":26,"bin":0},{"m":87,"s":27,"bin":3},{"m":87,"s":28,"bin":5},{"m":87,"s":29,"bin":4},{"m":87,"s":30,"bin":3},{"m":87,"s":31,"bin":3},{"m":87,"s":32,"bin":-1},{"m":87,"s":33,"bin":-2},{"m":87,"s":34,"bin":-2},{"m":87,"s":35,"bin":-2},{"m":87,"s":36,"bin":-2},
{"m":88,"s":1,"bin":-1},{"m":88,"s":2,"bin":-1},{"m":88,"s":3,"bin":0},{"m":88,"s":4,"bin":-3},{"m":88,"s":5,"bin":-2},{"m":88,"s":6,"bin":-1},{"m":88,"s":7,"bin":-3},{"m":88,"s":8,"bin":-3},{"m":88,"s":9,"bin":-3},{"m":88,"s":10,"bin":-3},{"m":88,"s":11,"bin":-3},{"m":88,"s":12,"bin":2},{"m":88,"s":13,"bin":3},{"m":88,"s":14,"bin":2},{"m":88,"s":15,"bin":2},{"m":88,"s":16,"bin":2},{"m":88,"s":17,"bin":1},{"m":88,"s":18,"bin":0},{"m":88,"s":19,"bin":0},{"m":88,"s":20,"bin":0},{"m":88,"s":21,"bin":0},{"m":88,"s":22,"bin":-2},{"m":88,"s":23,"bin":-1},{"m":88,"s":24,"bin":-2},{"m":88,"s":25,"bin":-2},{"m":88,"s":26,"bin":-2},{"m":88,"s":27,"bin":0},{"m":88,"s":28,"bin":1},{"m":88,"s":29,"bin":1},{"m":88,"s":30,"bin":0},{"m":88,"s":31,"bin":0},{"m":88,"s":32,"bin":-2},{"m":88,"s":33,"bin":-1},{"m":88,"s":34,"bin":-2},{"m":88,"s":35,"bin":-2},{"m":88,"s":36,"bin":-2},
{"m":89,"s":1,"bin":-2},{"m":89,"s":2,"bin":-4},{"m":89,"s":3,"bin":-1},{"m":89,"s":4,"bin":-2},{"m":89,"s":5,"bin":1},{"m":89,"s":6,"bin":0},{"m":89,"s":7,"bin":0},{"m":89,"s":8,"bin":0},{"m":89,"s":9,"bin":0},{"m":89,"s":10,"bin":0},{"m":89,"s":11,"bin":-1},{"m":89,"s":12,"bin":1},{"m":89,"s":13,"bin":1},{"m":89,"s":14,"bin":0},{"m":89,"s":15,"bin":0},{"m":89,"s":16,"bin":1},{"m":89,"s":17,"bin":-1},{"m":89,"s":18,"bin":0},{"m":89,"s":19,"bin":-1},{"m":89,"s":20,"bin":-1},{"m":89,"s":21,"bin":-1},{"m":89,"s":22,"bin":-1},{"m":89,"s":23,"bin":0},{"m":89,"s":24,"bin":0},{"m":89,"s":25,"bin":0},{"m":89,"s":26,"bin":0},{"m":89,"s":27,"bin":-3},{"m":89,"s":28,"bin":-2},{"m":89,"s":29,"bin":-2},{"m":89,"s":30,"bin":-1},{"m":89,"s":31,"bin":-1},{"m":89,"s":32,"bin":-1},{"m":89,"s":33,"bin":0},{"m":89,"s":34,"bin":-1},{"m":89,"s":35,"bin":0},{"m":89,"s":36,"bin":0},
{"m":90,"s":1,"bin":-1},{"m":90,"s":2,"bin":-2},{"m":90,"s":3,"bin":-1},{"m":90,"s":4,"bin":-3},{"m":90,"s":5,"bin":-2},{"m":90,"s":6,"bin":0},{"m":90,"s":7,"bin":0},{"m":90,"s":8,"bin":-1},{"m":90,"s":9,"bin":0},{"m":90,"s":10,"bin":0},{"m":90,"s":11,"bin":-1},{"m":90,"s":12,"bin":-1},{"m":90,"s":13,"bin":-1},{"m":90,"s":14,"bin":0},{"m":90,"s":15,"bin":0},{"m":90,"s":16,"bin":-1},{"m":90,"s":17,"bin":-1},{"m":90,"s":18,"bin":-1},{"m":90,"s":19,"bin":-1},{"m":90,"s":20,"bin":-1},{"m":90,"s":21,"bin":0},{"m":90,"s":22,"bin":2},{"m":90,"s":23,"bin":1},{"m":90,"s":24,"bin":1},{"m":90,"s":25,"bin":1},{"m":90,"s":26,"bin":1},{"m":90,"s":27,"bin":-2},{"m":90,"s":28,"bin":-1},{"m":90,"s":29,"bin":-2},{"m":90,"s":30,"bin":-1},{"m":90,"s":31,"bin":-1},{"m":90,"s":32,"bin":-1},{"m":90,"s":33,"bin":-2},{"m":90,"s":34,"bin":-2},{"m":90,"s":35,"bin":-1},{"m":90,"s":36,"bin":-1},
{"m":91,"s":1,"bin":-1},{"m":91,"s":2,"bin":-1},{"m":91,"s":3,"bin":-1},{"m":91,"s":4,"bin":-1},{"m":91,"s":5,"bin":0},{"m":91,"s":6,"bin":1},{"m":91,"s":7,"bin":-3},{"m":91,"s":8,"bin":-2},{"m":91,"s":9,"bin":-2},{"m":91,"s":10,"bin":-2},{"m":91,"s":11,"bin":-2},{"m":91,"s":12,"bin":2},{"m":91,"s":13,"bin":2},{"m":91,"s":14,"bin":2},{"m":91,"s":15,"bin":2},{"m":91,"s":16,"bin":2},{"m":91,"s":17,"bin":-1},{"m":91,"s":18,"bin":-1},{"m":91,"s":19,"bin":-1},{"m":91,"s":20,"bin":-1},{"m":91,"s":21,"bin":-2},{"m":91,"s":22,"bin":0},{"m":91,"s":23,"bin":0},{"m":91,"s":24,"bin":0},{"m":91,"s":25,"bin":0},{"m":91,"s":26,"bin":0},{"m":91,"s":27,"bin":1},{"m":91,"s":28,"bin":0},{"m":91,"s":29,"bin":0},{"m":91,"s":30,"bin":1},{"m":91,"s":31,"bin":1},{"m":91,"s":32,"bin":-2},{"m":91,"s":33,"bin":-1},{"m":91,"s":34,"bin":-1},{"m":91,"s":35,"bin":-1},{"m":91,"s":36,"bin":-1},
{"m":92,"s":1,"bin":-1},{"m":92,"s":2,"bin":-2},{"m":92,"s":3,"bin":-1},{"m":92,"s":4,"bin":-2},{"m":92,"s":5,"bin":0},{"m":92,"s":6,"bin":1},{"m":92,"s":7,"bin":-2},{"m":92,"s":8,"bin":-3},{"m":92,"s":9,"bin":-2},{"m":92,"s":10,"bin":-2},{"m":92,"s":11,"bin":-2},{"m":92,"s":12,"bin":1},{"m":92,"s":13,"bin":1},{"m":92,"s":14,"bin":1},{"m":92,"s":15,"bin":2},{"m":92,"s":16,"bin":1},{"m":92,"s":17,"bin":-3},{"m":92,"s":18,"bin":-3},{"m":92,"s":19,"bin":-3},{"m":92,"s":20,"bin":-2},{"m":92,"s":21,"bin":-2},{"m":92,"s":22,"bin":-1},{"m":92,"s":23,"bin":-2},{"m":92,"s":24,"bin":-1},{"m":92,"s":25,"bin":-1},{"m":92,"s":26,"bin":-1},{"m":92,"s":27,"bin":-4},{"m":92,"s":28,"bin":-3},{"m":92,"s":29,"bin":-4},{"m":92,"s":30,"bin":-3},{"m":92,"s":31,"bin":-3},{"m":92,"s":32,"bin":-2},{"m":92,"s":33,"bin":-2},{"m":92,"s":34,"bin":-2},{"m":92,"s":35,"bin":-2},{"m":92,"s":36,"bin":-1}
]},
"vconcat":[
{"width":436.5,"height":6,"title":{"text":"Column Z-score","anchor":"end","dx":-51,"fontSize":5.2,"fontWeight":"normal","font":"Liberation Sans","offset":1,"color":"#222"},
"data":{"name":"legendBins"},
"layer":[{"mark":{"type":"rect"},"encoding":{"x":{"field":"lo","type":"quantitative","scale":{"domain":[-15.04,2.85],"nice":false,"zero":false},"axis":{"values":[-2,-1,0,1,2],"title":null,"grid":false,"domain":false,"tickSize":2,"tickWidth":0.5,"tickColor":"#222","labelFontSize":7,"labelColor":"#222","labelPadding":1,"labelFont":"Liberation Sans"}},"x2":{"field":"hi"},"color":{"field":"bin","type":"ordinal","scale":{"domain":[-5,-4,-3,-2,-1,0,1,2,3,4,5],"range":["#003c30","#01665e","#35978f","#80cdc1","#c7eae5","#f5f5f5","#f6e8c3","#dfc27d","#bf812d","#8c510a","#543005"]},"legend":null}}},
{"mark":{"type":"rect","filled":false,"stroke":"#222","strokeWidth":0.6},"encoding":{"x":{"datum":-2.84},"x2":{"datum":2.84}}}]},
{"width":436.5,"height":581.5,"data":{"name":"cells"},
"transform":[{"lookup":"m","from":{"data":{"name":"metabolites"},"key":"m","fields":["name"]}},{"lookup":"s","from":{"data":{"name":"samples"},"key":"s","fields":["sample"]}}],
"mark":{"type":"rect"},
"encoding":{"x":{"field":"sample","type":"nominal","sort":{"field":"s","op":"min"},"scale":{"paddingInner":0,"paddingOuter":0},"axis":{"title":null,"ticks":false,"domain":false,"labelAngle":270,"labelFontSize":4,"labelPadding":12,"labelColor":"#222","labelOverlap":false}},
"y":{"field":"name","type":"nominal","sort":{"field":"m","op":"min"},"scale":{"paddingInner":0,"paddingOuter":0},"axis":{"orient":"right","title":null,"ticks":false,"domain":false,"labelFontSize":3.6,"labelPadding":7.5,"labelColor":"#222","labelOverlap":false,"labelLimit":0}},
"color":{"field":"bin","type":"ordinal","scale":{"domain":[-5,-4,-3,-2,-1,0,1,2,3,4,5],"range":["#003c30","#01665e","#35978f","#80cdc1","#c7eae5","#f5f5f5","#f6e8c3","#dfc27d","#bf812d","#8c510a","#543005"]},"legend":null}}},
{"width":436.5,"height":57.5,"data":{"name":"groups"},
"layer":[
{"mark":{"type":"rule","strokeWidth":0.8},"encoding":{"color":{"condition":{"test":"datum.group=='Dissociative symptoms'||datum.group=='Hallucinations'","value":"#b0b0b0"},"value":"#8a8a8a"},"x":{"field":"first","type":"nominal","scale":{"type":"point","padding":0.5,"domain":["M4F1","M4F6","M4F3","M4F2","M4F5","M4F4","M8F1","M6F1","M1F1","M3F1","M2F1","M3F4","M6F4","M8F4","M2F4","M1F4","M6F2","M3F2","M1F2","M2F2","M8F2","M8F5","M6F5","M3F5","M2F5","M1F5","M2F6","M5F6","M8F6","M3F6","M1F6","M5F3","M6F3","M2F3","M3F3","M1F3"]},"axis":null},"x2":{"field":"last"},"y":{"datum":0.32,"scale":{"domain":[0,1],"reverse":true},"axis":null}}},
{"mark":{"type":"rule","strokeWidth":0.8},"encoding":{"color":{"condition":{"test":"datum.group=='Dissociative symptoms'||datum.group=='Hallucinations'","value":"#b0b0b0"},"value":"#8a8a8a"},"x":{"field":"first","type":"nominal"},"y":{"datum":0.2},"y2":{"datum":0.32}}},
{"mark":{"type":"rule","strokeWidth":0.8},"encoding":{"color":{"condition":{"test":"datum.group=='Dissociative symptoms'||datum.group=='Hallucinations'","value":"#b0b0b0"},"value":"#8a8a8a"},"x":{"field":"last","type":"nominal"},"y":{"datum":0.2},"y2":{"datum":0.32}}},
{"transform":[{"filter":"indexof(datum.group,'\\n')<0"}],"mark":{"type":"text","angle":330,"align":"right","baseline":"alphabetic","fontSize":6.1,"dx":6,"color":"#222"},"encoding":{"x":{"field":"mid","type":"nominal"},"y":{"datum":0.49},"text":{"field":"group"}}},
{"transform":[{"filter":"indexof(datum.group,'\\n')>=0"}],"mark":{"type":"text","angle":330,"align":"right","baseline":"alphabetic","fontSize":6.1,"lineBreak":"\n","lineHeight":8,"color":"#222"},"encoding":{"x":{"field":"mid","type":"nominal"},"y":{"datum":0.49},"text":{"field":"group"}}}
]}
]}
